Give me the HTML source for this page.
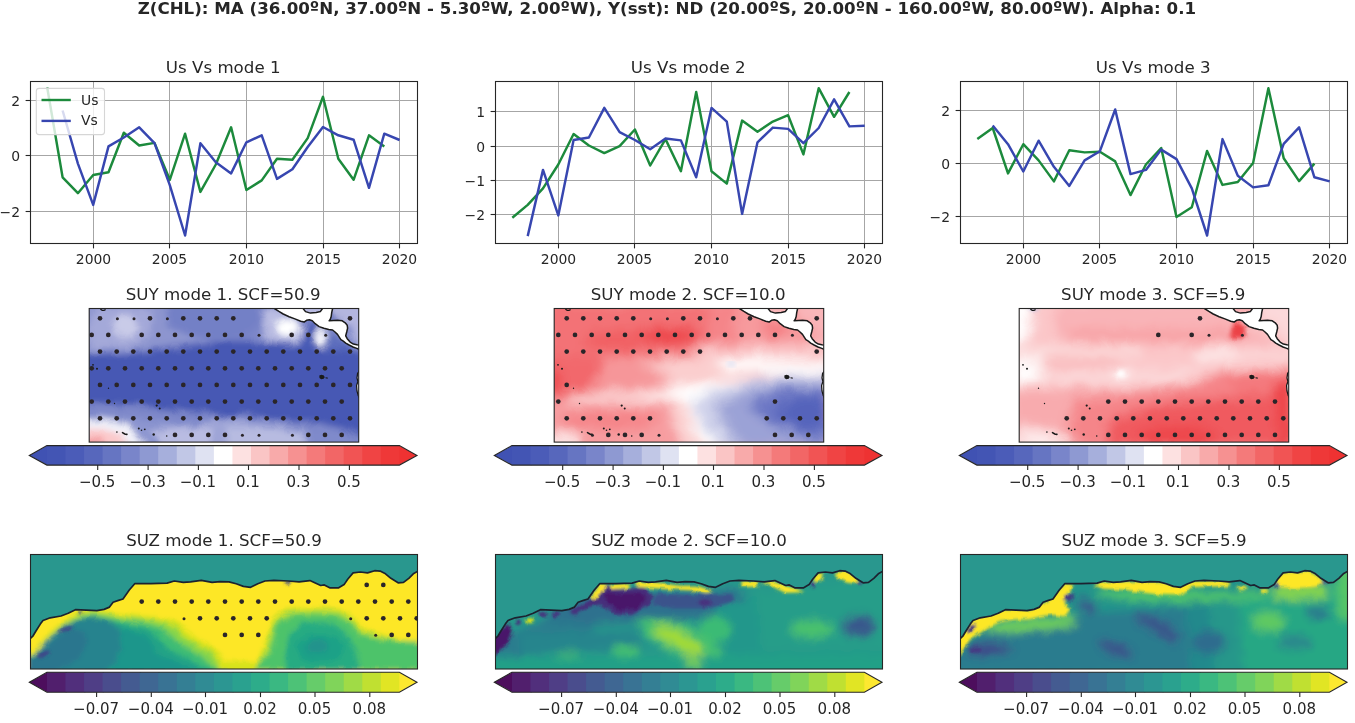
<!DOCTYPE html>
<html lang="en"><head><meta charset="utf-8"><title>MCA figure</title>
<style>html,body{margin:0;padding:0;background:#fff}svg{display:block}text{font-family:"DejaVu Sans","Liberation Sans",sans-serif}</style>
</head><body>
<svg width="1355" height="723" viewBox="0 0 1355 723">
<rect width="1355" height="723" fill="#fff"/>
<g>
<rect x="30.5" y="81.5" width="387.0" height="162.0" fill="#fff"/>
<line x1="93.5" y1="81.5" x2="93.5" y2="243.5" stroke="#a6a6a6" stroke-width="1"/>
<line x1="93.5" y1="243.5" x2="93.5" y2="248.4" stroke="#262626" stroke-width="1.1"/>
<text x="93.5" y="264.0" font-size="13.9" text-anchor="middle" fill="#262626">2000</text>
<line x1="169.5" y1="81.5" x2="169.5" y2="243.5" stroke="#a6a6a6" stroke-width="1"/>
<line x1="169.5" y1="243.5" x2="169.5" y2="248.4" stroke="#262626" stroke-width="1.1"/>
<text x="169.5" y="264.0" font-size="13.9" text-anchor="middle" fill="#262626">2005</text>
<line x1="246.5" y1="81.5" x2="246.5" y2="243.5" stroke="#a6a6a6" stroke-width="1"/>
<line x1="246.5" y1="243.5" x2="246.5" y2="248.4" stroke="#262626" stroke-width="1.1"/>
<text x="246.5" y="264.0" font-size="13.9" text-anchor="middle" fill="#262626">2010</text>
<line x1="323.5" y1="81.5" x2="323.5" y2="243.5" stroke="#a6a6a6" stroke-width="1"/>
<line x1="323.5" y1="243.5" x2="323.5" y2="248.4" stroke="#262626" stroke-width="1.1"/>
<text x="323.5" y="264.0" font-size="13.9" text-anchor="middle" fill="#262626">2015</text>
<line x1="399.5" y1="81.5" x2="399.5" y2="243.5" stroke="#a6a6a6" stroke-width="1"/>
<line x1="399.5" y1="243.5" x2="399.5" y2="248.4" stroke="#262626" stroke-width="1.1"/>
<text x="399.5" y="264.0" font-size="13.9" text-anchor="middle" fill="#262626">2020</text>
<line x1="30.5" y1="100.5" x2="417.5" y2="100.5" stroke="#a6a6a6" stroke-width="1"/>
<line x1="25.6" y1="100.5" x2="30.5" y2="100.5" stroke="#262626" stroke-width="1.1"/>
<text x="20.0" y="105.8" font-size="13.9" text-anchor="end" fill="#262626">2</text>
<line x1="30.5" y1="155.5" x2="417.5" y2="155.5" stroke="#a6a6a6" stroke-width="1"/>
<line x1="25.6" y1="155.5" x2="30.5" y2="155.5" stroke="#262626" stroke-width="1.1"/>
<text x="20.0" y="160.8" font-size="13.9" text-anchor="end" fill="#262626">0</text>
<line x1="30.5" y1="211.5" x2="417.5" y2="211.5" stroke="#a6a6a6" stroke-width="1"/>
<line x1="25.6" y1="211.5" x2="30.5" y2="211.5" stroke="#262626" stroke-width="1.1"/>
<text x="20.0" y="216.8" font-size="13.9" text-anchor="end" fill="#262626">−2</text>
<polyline points="47.2,87.5 62.6,177.3 77.9,193.2 93.2,175.0 108.5,172.2 123.8,132.7 139.2,145.5 154.5,142.9 169.8,179.8 185.1,133.7 200.4,191.9 215.8,164.5 231.1,127.3 246.4,190.0 261.7,180.4 277.0,158.8 292.4,159.8 307.7,138.1 323.0,96.8 338.3,158.8 353.6,179.8 369.0,135.3 384.3,146.4" fill="none" stroke="#1c8a3c" stroke-width="2.45" stroke-linejoin="round"/>
<polyline points="62.6,110.5 77.9,163.6 93.2,204.9 108.5,146.4 123.8,137.5 139.2,127.3 154.5,143.2 169.8,185.2 185.1,235.5 200.4,143.2 215.8,162.3 231.1,173.4 246.4,142.3 261.7,135.3 277.0,178.9 292.4,169.3 307.7,147.0 323.0,127.0 338.3,135.3 353.6,139.7 369.0,187.8 384.3,133.7 399.6,140.0" fill="none" stroke="#3746b0" stroke-width="2.45" stroke-linejoin="round"/>
<rect x="30.5" y="81.5" width="387.0" height="162.0" fill="none" stroke="#262626" stroke-width="1.1"/>
<text x="223.2" y="73.2" font-size="16.67" text-anchor="middle" fill="#262626">Us Vs mode 1</text>
<rect x="36.3" y="88.4" width="68.2" height="46.2" rx="2.8" fill="#fff" fill-opacity="0.8" stroke="#d6d6d6" stroke-width="1.1"/>
<line x1="41.5" y1="100" x2="70.8" y2="100" stroke="#1c8a3c" stroke-width="2.4"/>
<line x1="41.5" y1="120.9" x2="70.8" y2="120.9" stroke="#3746b0" stroke-width="2.4"/>
<text x="81.0" y="104.6" font-size="13.9" fill="#262626">Us</text>
<text x="81.0" y="125.1" font-size="13.9" fill="#262626">Vs</text>
</g>
<g>
<rect x="495.5" y="81.5" width="387.0" height="162.0" fill="#fff"/>
<line x1="558.5" y1="81.5" x2="558.5" y2="243.5" stroke="#a6a6a6" stroke-width="1"/>
<line x1="558.5" y1="243.5" x2="558.5" y2="248.4" stroke="#262626" stroke-width="1.1"/>
<text x="558.5" y="264.0" font-size="13.9" text-anchor="middle" fill="#262626">2000</text>
<line x1="634.5" y1="81.5" x2="634.5" y2="243.5" stroke="#a6a6a6" stroke-width="1"/>
<line x1="634.5" y1="243.5" x2="634.5" y2="248.4" stroke="#262626" stroke-width="1.1"/>
<text x="634.5" y="264.0" font-size="13.9" text-anchor="middle" fill="#262626">2005</text>
<line x1="711.5" y1="81.5" x2="711.5" y2="243.5" stroke="#a6a6a6" stroke-width="1"/>
<line x1="711.5" y1="243.5" x2="711.5" y2="248.4" stroke="#262626" stroke-width="1.1"/>
<text x="711.5" y="264.0" font-size="13.9" text-anchor="middle" fill="#262626">2010</text>
<line x1="788.5" y1="81.5" x2="788.5" y2="243.5" stroke="#a6a6a6" stroke-width="1"/>
<line x1="788.5" y1="243.5" x2="788.5" y2="248.4" stroke="#262626" stroke-width="1.1"/>
<text x="788.5" y="264.0" font-size="13.9" text-anchor="middle" fill="#262626">2015</text>
<line x1="864.5" y1="81.5" x2="864.5" y2="243.5" stroke="#a6a6a6" stroke-width="1"/>
<line x1="864.5" y1="243.5" x2="864.5" y2="248.4" stroke="#262626" stroke-width="1.1"/>
<text x="864.5" y="264.0" font-size="13.9" text-anchor="middle" fill="#262626">2020</text>
<line x1="495.5" y1="111.5" x2="882.5" y2="111.5" stroke="#a6a6a6" stroke-width="1"/>
<line x1="490.6" y1="111.5" x2="495.5" y2="111.5" stroke="#262626" stroke-width="1.1"/>
<text x="485.0" y="116.8" font-size="13.9" text-anchor="end" fill="#262626">1</text>
<line x1="495.5" y1="146.5" x2="882.5" y2="146.5" stroke="#a6a6a6" stroke-width="1"/>
<line x1="490.6" y1="146.5" x2="495.5" y2="146.5" stroke="#262626" stroke-width="1.1"/>
<text x="485.0" y="151.8" font-size="13.9" text-anchor="end" fill="#262626">0</text>
<line x1="495.5" y1="180.5" x2="882.5" y2="180.5" stroke="#a6a6a6" stroke-width="1"/>
<line x1="490.6" y1="180.5" x2="495.5" y2="180.5" stroke="#262626" stroke-width="1.1"/>
<text x="485.0" y="185.8" font-size="13.9" text-anchor="end" fill="#262626">−1</text>
<line x1="495.5" y1="214.5" x2="882.5" y2="214.5" stroke="#a6a6a6" stroke-width="1"/>
<line x1="490.6" y1="214.5" x2="495.5" y2="214.5" stroke="#262626" stroke-width="1.1"/>
<text x="485.0" y="219.8" font-size="13.9" text-anchor="end" fill="#262626">−2</text>
<polyline points="512.3,217.7 527.7,204.9 543.0,188.4 558.3,164.5 573.6,134.0 588.9,145.5 604.3,153.1 619.6,146.1 634.9,129.5 650.2,165.5 665.5,139.1 680.9,171.2 696.2,92.0 711.5,171.2 726.8,183.6 742.1,120.6 757.5,131.8 772.8,121.6 788.1,115.2 803.4,154.4 818.7,88.2 834.1,116.8 849.4,92.0" fill="none" stroke="#1c8a3c" stroke-width="2.45" stroke-linejoin="round"/>
<polyline points="527.7,236.1 543.0,169.9 558.3,215.4 573.6,140.0 588.9,137.5 604.3,107.9 619.6,132.1 634.9,140.0 650.2,149.3 665.5,138.5 680.9,140.4 696.2,177.3 711.5,107.9 726.8,121.6 742.1,213.9 757.5,142.3 772.8,127.6 788.1,128.9 803.4,143.2 818.7,128.0 834.1,99.3 849.4,126.4 864.7,125.7" fill="none" stroke="#3746b0" stroke-width="2.45" stroke-linejoin="round"/>
<rect x="495.5" y="81.5" width="387.0" height="162.0" fill="none" stroke="#262626" stroke-width="1.1"/>
<text x="688.2" y="73.2" font-size="16.67" text-anchor="middle" fill="#262626">Us Vs mode 2</text>
</g>
<g>
<rect x="960.5" y="81.5" width="387.0" height="162.0" fill="#fff"/>
<line x1="1023.5" y1="81.5" x2="1023.5" y2="243.5" stroke="#a6a6a6" stroke-width="1"/>
<line x1="1023.5" y1="243.5" x2="1023.5" y2="248.4" stroke="#262626" stroke-width="1.1"/>
<text x="1023.5" y="264.0" font-size="13.9" text-anchor="middle" fill="#262626">2000</text>
<line x1="1099.5" y1="81.5" x2="1099.5" y2="243.5" stroke="#a6a6a6" stroke-width="1"/>
<line x1="1099.5" y1="243.5" x2="1099.5" y2="248.4" stroke="#262626" stroke-width="1.1"/>
<text x="1099.5" y="264.0" font-size="13.9" text-anchor="middle" fill="#262626">2005</text>
<line x1="1176.5" y1="81.5" x2="1176.5" y2="243.5" stroke="#a6a6a6" stroke-width="1"/>
<line x1="1176.5" y1="243.5" x2="1176.5" y2="248.4" stroke="#262626" stroke-width="1.1"/>
<text x="1176.5" y="264.0" font-size="13.9" text-anchor="middle" fill="#262626">2010</text>
<line x1="1253.5" y1="81.5" x2="1253.5" y2="243.5" stroke="#a6a6a6" stroke-width="1"/>
<line x1="1253.5" y1="243.5" x2="1253.5" y2="248.4" stroke="#262626" stroke-width="1.1"/>
<text x="1253.5" y="264.0" font-size="13.9" text-anchor="middle" fill="#262626">2015</text>
<line x1="1329.5" y1="81.5" x2="1329.5" y2="243.5" stroke="#a6a6a6" stroke-width="1"/>
<line x1="1329.5" y1="243.5" x2="1329.5" y2="248.4" stroke="#262626" stroke-width="1.1"/>
<text x="1329.5" y="264.0" font-size="13.9" text-anchor="middle" fill="#262626">2020</text>
<line x1="960.5" y1="110.5" x2="1347.5" y2="110.5" stroke="#a6a6a6" stroke-width="1"/>
<line x1="955.6" y1="110.5" x2="960.5" y2="110.5" stroke="#262626" stroke-width="1.1"/>
<text x="950.0" y="115.8" font-size="13.9" text-anchor="end" fill="#262626">2</text>
<line x1="960.5" y1="163.5" x2="1347.5" y2="163.5" stroke="#a6a6a6" stroke-width="1"/>
<line x1="955.6" y1="163.5" x2="960.5" y2="163.5" stroke="#262626" stroke-width="1.1"/>
<text x="950.0" y="168.8" font-size="13.9" text-anchor="end" fill="#262626">0</text>
<line x1="960.5" y1="216.5" x2="1347.5" y2="216.5" stroke="#a6a6a6" stroke-width="1"/>
<line x1="955.6" y1="216.5" x2="960.5" y2="216.5" stroke="#262626" stroke-width="1.1"/>
<text x="950.0" y="221.8" font-size="13.9" text-anchor="end" fill="#262626">−2</text>
<polyline points="977.3,139.1 992.7,128.0 1008.0,173.4 1023.3,144.2 1038.6,160.4 1053.9,181.4 1069.3,150.2 1084.6,152.4 1099.9,151.8 1115.2,161.4 1130.5,195.1 1145.9,164.5 1161.2,148.0 1176.5,217.0 1191.8,207.2 1207.1,150.9 1222.5,184.9 1237.8,182.0 1253.1,162.9 1268.4,88.2 1283.7,158.2 1299.1,181.1 1314.4,163.6" fill="none" stroke="#1c8a3c" stroke-width="2.45" stroke-linejoin="round"/>
<polyline points="992.7,125.4 1008.0,144.2 1023.3,171.5 1038.6,140.7 1053.9,166.8 1069.3,185.9 1084.6,160.4 1099.9,151.2 1115.2,109.5 1130.5,174.1 1145.9,169.9 1161.2,149.6 1176.5,159.1 1191.8,188.4 1207.1,235.5 1222.5,139.1 1237.8,175.7 1253.1,187.4 1268.4,185.2 1283.7,143.9 1299.1,127.3 1314.4,177.3 1329.7,181.4" fill="none" stroke="#3746b0" stroke-width="2.45" stroke-linejoin="round"/>
<rect x="960.5" y="81.5" width="387.0" height="162.0" fill="none" stroke="#262626" stroke-width="1.1"/>
<text x="1153.2" y="73.2" font-size="16.67" text-anchor="middle" fill="#262626">Us Vs mode 3</text>
</g>
<g>
<polygon points="29.3,455.4 47.4,445.6 47.4,465.1" fill="#4052b3"/>
<polygon points="417.0,455.4 398.9,445.6 398.9,465.1" fill="#ee3232"/>
<rect x="46.92" y="445.6" width="20.05" height="19.5" fill="#4355b4"/>
<rect x="65.47" y="445.6" width="20.05" height="19.5" fill="#4b5cb8"/>
<rect x="84.02" y="445.6" width="20.05" height="19.5" fill="#5767bc"/>
<rect x="102.57" y="445.6" width="20.05" height="19.5" fill="#6675c2"/>
<rect x="121.12" y="445.6" width="20.05" height="19.5" fill="#7985ca"/>
<rect x="139.67" y="445.6" width="20.05" height="19.5" fill="#8e99d2"/>
<rect x="158.22" y="445.6" width="20.05" height="19.5" fill="#a6afdc"/>
<rect x="176.77" y="445.6" width="20.05" height="19.5" fill="#c1c7e6"/>
<rect x="195.32" y="445.6" width="20.05" height="19.5" fill="#dfe2f2"/>
<rect x="213.87" y="445.6" width="20.05" height="19.5" fill="#ffffff"/>
<rect x="232.43" y="445.6" width="20.05" height="19.5" fill="#fde1e1"/>
<rect x="250.98" y="445.6" width="20.05" height="19.5" fill="#fac5c5"/>
<rect x="269.53" y="445.6" width="20.05" height="19.5" fill="#f8aaaa"/>
<rect x="288.08" y="445.6" width="20.05" height="19.5" fill="#f69191"/>
<rect x="306.63" y="445.6" width="20.05" height="19.5" fill="#f47a7a"/>
<rect x="325.18" y="445.6" width="20.05" height="19.5" fill="#f26666"/>
<rect x="343.73" y="445.6" width="20.05" height="19.5" fill="#f15454"/>
<rect x="362.28" y="445.6" width="20.05" height="19.5" fill="#f04444"/>
<rect x="380.83" y="445.6" width="18.55" height="19.5" fill="#ef3838"/>
<polygon points="29.3,455.4 46.9,445.6 399.4,445.6 417.0,455.4 399.4,465.1 46.9,465.1" fill="none" stroke="#262626" stroke-width="1.1" stroke-linejoin="miter"/>
<line x1="97.7" y1="465.1" x2="97.7" y2="470.0" stroke="#262626" stroke-width="1.1"/>
<text x="97.2" y="486.6" font-size="15" text-anchor="middle" fill="#262626">−0.5</text>
<line x1="148.1" y1="465.1" x2="148.1" y2="470.0" stroke="#262626" stroke-width="1.1"/>
<text x="147.6" y="486.6" font-size="15" text-anchor="middle" fill="#262626">−0.3</text>
<line x1="198.4" y1="465.1" x2="198.4" y2="470.0" stroke="#262626" stroke-width="1.1"/>
<text x="197.9" y="486.6" font-size="15" text-anchor="middle" fill="#262626">−0.1</text>
<line x1="248.5" y1="465.1" x2="248.5" y2="470.0" stroke="#262626" stroke-width="1.1"/>
<text x="248.0" y="486.6" font-size="15" text-anchor="middle" fill="#262626">0.1</text>
<line x1="299.0" y1="465.1" x2="299.0" y2="470.0" stroke="#262626" stroke-width="1.1"/>
<text x="298.5" y="486.6" font-size="15" text-anchor="middle" fill="#262626">0.3</text>
<line x1="349.4" y1="465.1" x2="349.4" y2="470.0" stroke="#262626" stroke-width="1.1"/>
<text x="348.9" y="486.6" font-size="15" text-anchor="middle" fill="#262626">0.5</text>
</g>
<g>
<polygon points="29.3,682.2 47.4,672.2 47.4,692.2" fill="#4d0e5d"/>
<polygon points="417.0,682.2 398.9,672.2 398.9,692.2" fill="#fde830"/>
<rect x="46.92" y="672.2" width="20.05" height="20.0" fill="#511f6d"/>
<rect x="65.47" y="672.2" width="20.05" height="20.0" fill="#512f7c"/>
<rect x="84.02" y="672.2" width="20.05" height="20.0" fill="#4f3e86"/>
<rect x="102.57" y="672.2" width="20.05" height="20.0" fill="#4a4d8d"/>
<rect x="121.12" y="672.2" width="20.05" height="20.0" fill="#445b91"/>
<rect x="139.67" y="672.2" width="20.05" height="20.0" fill="#3f6793"/>
<rect x="158.22" y="672.2" width="20.05" height="20.0" fill="#397394"/>
<rect x="176.77" y="672.2" width="20.05" height="20.0" fill="#347f94"/>
<rect x="195.32" y="672.2" width="20.05" height="20.0" fill="#308b94"/>
<rect x="213.87" y="672.2" width="20.05" height="20.0" fill="#2c9692"/>
<rect x="232.43" y="672.2" width="20.05" height="20.0" fill="#2aa18f"/>
<rect x="250.98" y="672.2" width="20.05" height="20.0" fill="#2dac8a"/>
<rect x="269.53" y="672.2" width="20.05" height="20.0" fill="#3ab882"/>
<rect x="288.08" y="672.2" width="20.05" height="20.0" fill="#4dc277"/>
<rect x="306.63" y="672.2" width="20.05" height="20.0" fill="#66cc6a"/>
<rect x="325.18" y="672.2" width="20.05" height="20.0" fill="#80d45a"/>
<rect x="343.73" y="672.2" width="20.05" height="20.0" fill="#a0db46"/>
<rect x="362.28" y="672.2" width="20.05" height="20.0" fill="#c0e031"/>
<rect x="380.83" y="672.2" width="18.55" height="20.0" fill="#e1e524"/>
<polygon points="29.3,682.2 46.9,672.2 399.4,672.2 417.0,682.2 399.4,692.2 46.9,692.2" fill="none" stroke="#262626" stroke-width="1.1" stroke-linejoin="miter"/>
<line x1="96.6" y1="692.2" x2="96.6" y2="697.1" stroke="#262626" stroke-width="1.1"/>
<text x="96.1" y="713.7" font-size="15" text-anchor="middle" fill="#262626">−0.07</text>
<line x1="151.3" y1="692.2" x2="151.3" y2="697.1" stroke="#262626" stroke-width="1.1"/>
<text x="150.8" y="713.7" font-size="15" text-anchor="middle" fill="#262626">−0.04</text>
<line x1="205.5" y1="692.2" x2="205.5" y2="697.1" stroke="#262626" stroke-width="1.1"/>
<text x="205.0" y="713.7" font-size="15" text-anchor="middle" fill="#262626">−0.01</text>
<line x1="260.5" y1="692.2" x2="260.5" y2="697.1" stroke="#262626" stroke-width="1.1"/>
<text x="260.0" y="713.7" font-size="15" text-anchor="middle" fill="#262626">0.02</text>
<line x1="315.0" y1="692.2" x2="315.0" y2="697.1" stroke="#262626" stroke-width="1.1"/>
<text x="314.5" y="713.7" font-size="15" text-anchor="middle" fill="#262626">0.05</text>
<line x1="369.8" y1="692.2" x2="369.8" y2="697.1" stroke="#262626" stroke-width="1.1"/>
<text x="369.3" y="713.7" font-size="15" text-anchor="middle" fill="#262626">0.08</text>
</g>
<g>
<polygon points="494.3,455.4 512.4,445.6 512.4,465.1" fill="#4052b3"/>
<polygon points="882.0,455.4 863.9,445.6 863.9,465.1" fill="#ee3232"/>
<rect x="511.92" y="445.6" width="20.05" height="19.5" fill="#4355b4"/>
<rect x="530.47" y="445.6" width="20.05" height="19.5" fill="#4b5cb8"/>
<rect x="549.02" y="445.6" width="20.05" height="19.5" fill="#5767bc"/>
<rect x="567.57" y="445.6" width="20.05" height="19.5" fill="#6675c2"/>
<rect x="586.12" y="445.6" width="20.05" height="19.5" fill="#7985ca"/>
<rect x="604.67" y="445.6" width="20.05" height="19.5" fill="#8e99d2"/>
<rect x="623.22" y="445.6" width="20.05" height="19.5" fill="#a6afdc"/>
<rect x="641.77" y="445.6" width="20.05" height="19.5" fill="#c1c7e6"/>
<rect x="660.32" y="445.6" width="20.05" height="19.5" fill="#dfe2f2"/>
<rect x="678.87" y="445.6" width="20.05" height="19.5" fill="#ffffff"/>
<rect x="697.43" y="445.6" width="20.05" height="19.5" fill="#fde1e1"/>
<rect x="715.98" y="445.6" width="20.05" height="19.5" fill="#fac5c5"/>
<rect x="734.53" y="445.6" width="20.05" height="19.5" fill="#f8aaaa"/>
<rect x="753.08" y="445.6" width="20.05" height="19.5" fill="#f69191"/>
<rect x="771.63" y="445.6" width="20.05" height="19.5" fill="#f47a7a"/>
<rect x="790.18" y="445.6" width="20.05" height="19.5" fill="#f26666"/>
<rect x="808.73" y="445.6" width="20.05" height="19.5" fill="#f15454"/>
<rect x="827.28" y="445.6" width="20.05" height="19.5" fill="#f04444"/>
<rect x="845.83" y="445.6" width="18.55" height="19.5" fill="#ef3838"/>
<polygon points="494.3,455.4 511.9,445.6 864.4,445.6 882.0,455.4 864.4,465.1 511.9,465.1" fill="none" stroke="#262626" stroke-width="1.1" stroke-linejoin="miter"/>
<line x1="562.7" y1="465.1" x2="562.7" y2="470.0" stroke="#262626" stroke-width="1.1"/>
<text x="562.2" y="486.6" font-size="15" text-anchor="middle" fill="#262626">−0.5</text>
<line x1="613.1" y1="465.1" x2="613.1" y2="470.0" stroke="#262626" stroke-width="1.1"/>
<text x="612.6" y="486.6" font-size="15" text-anchor="middle" fill="#262626">−0.3</text>
<line x1="663.4" y1="465.1" x2="663.4" y2="470.0" stroke="#262626" stroke-width="1.1"/>
<text x="662.9" y="486.6" font-size="15" text-anchor="middle" fill="#262626">−0.1</text>
<line x1="713.5" y1="465.1" x2="713.5" y2="470.0" stroke="#262626" stroke-width="1.1"/>
<text x="713.0" y="486.6" font-size="15" text-anchor="middle" fill="#262626">0.1</text>
<line x1="764.0" y1="465.1" x2="764.0" y2="470.0" stroke="#262626" stroke-width="1.1"/>
<text x="763.5" y="486.6" font-size="15" text-anchor="middle" fill="#262626">0.3</text>
<line x1="814.4" y1="465.1" x2="814.4" y2="470.0" stroke="#262626" stroke-width="1.1"/>
<text x="813.9" y="486.6" font-size="15" text-anchor="middle" fill="#262626">0.5</text>
</g>
<g>
<polygon points="494.3,682.2 512.4,672.2 512.4,692.2" fill="#4d0e5d"/>
<polygon points="882.0,682.2 863.9,672.2 863.9,692.2" fill="#fde830"/>
<rect x="511.92" y="672.2" width="20.05" height="20.0" fill="#511f6d"/>
<rect x="530.47" y="672.2" width="20.05" height="20.0" fill="#512f7c"/>
<rect x="549.02" y="672.2" width="20.05" height="20.0" fill="#4f3e86"/>
<rect x="567.57" y="672.2" width="20.05" height="20.0" fill="#4a4d8d"/>
<rect x="586.12" y="672.2" width="20.05" height="20.0" fill="#445b91"/>
<rect x="604.67" y="672.2" width="20.05" height="20.0" fill="#3f6793"/>
<rect x="623.22" y="672.2" width="20.05" height="20.0" fill="#397394"/>
<rect x="641.77" y="672.2" width="20.05" height="20.0" fill="#347f94"/>
<rect x="660.32" y="672.2" width="20.05" height="20.0" fill="#308b94"/>
<rect x="678.87" y="672.2" width="20.05" height="20.0" fill="#2c9692"/>
<rect x="697.43" y="672.2" width="20.05" height="20.0" fill="#2aa18f"/>
<rect x="715.98" y="672.2" width="20.05" height="20.0" fill="#2dac8a"/>
<rect x="734.53" y="672.2" width="20.05" height="20.0" fill="#3ab882"/>
<rect x="753.08" y="672.2" width="20.05" height="20.0" fill="#4dc277"/>
<rect x="771.63" y="672.2" width="20.05" height="20.0" fill="#66cc6a"/>
<rect x="790.18" y="672.2" width="20.05" height="20.0" fill="#80d45a"/>
<rect x="808.73" y="672.2" width="20.05" height="20.0" fill="#a0db46"/>
<rect x="827.28" y="672.2" width="20.05" height="20.0" fill="#c0e031"/>
<rect x="845.83" y="672.2" width="18.55" height="20.0" fill="#e1e524"/>
<polygon points="494.3,682.2 511.9,672.2 864.4,672.2 882.0,682.2 864.4,692.2 511.9,692.2" fill="none" stroke="#262626" stroke-width="1.1" stroke-linejoin="miter"/>
<line x1="561.6" y1="692.2" x2="561.6" y2="697.1" stroke="#262626" stroke-width="1.1"/>
<text x="561.1" y="713.7" font-size="15" text-anchor="middle" fill="#262626">−0.07</text>
<line x1="616.3" y1="692.2" x2="616.3" y2="697.1" stroke="#262626" stroke-width="1.1"/>
<text x="615.8" y="713.7" font-size="15" text-anchor="middle" fill="#262626">−0.04</text>
<line x1="670.5" y1="692.2" x2="670.5" y2="697.1" stroke="#262626" stroke-width="1.1"/>
<text x="670.0" y="713.7" font-size="15" text-anchor="middle" fill="#262626">−0.01</text>
<line x1="725.5" y1="692.2" x2="725.5" y2="697.1" stroke="#262626" stroke-width="1.1"/>
<text x="725.0" y="713.7" font-size="15" text-anchor="middle" fill="#262626">0.02</text>
<line x1="780.0" y1="692.2" x2="780.0" y2="697.1" stroke="#262626" stroke-width="1.1"/>
<text x="779.5" y="713.7" font-size="15" text-anchor="middle" fill="#262626">0.05</text>
<line x1="834.8" y1="692.2" x2="834.8" y2="697.1" stroke="#262626" stroke-width="1.1"/>
<text x="834.3" y="713.7" font-size="15" text-anchor="middle" fill="#262626">0.08</text>
</g>
<g>
<polygon points="959.3,455.4 977.4,445.6 977.4,465.1" fill="#4052b3"/>
<polygon points="1347.0,455.4 1328.9,445.6 1328.9,465.1" fill="#ee3232"/>
<rect x="976.92" y="445.6" width="20.05" height="19.5" fill="#4355b4"/>
<rect x="995.47" y="445.6" width="20.05" height="19.5" fill="#4b5cb8"/>
<rect x="1014.02" y="445.6" width="20.05" height="19.5" fill="#5767bc"/>
<rect x="1032.57" y="445.6" width="20.05" height="19.5" fill="#6675c2"/>
<rect x="1051.12" y="445.6" width="20.05" height="19.5" fill="#7985ca"/>
<rect x="1069.67" y="445.6" width="20.05" height="19.5" fill="#8e99d2"/>
<rect x="1088.22" y="445.6" width="20.05" height="19.5" fill="#a6afdc"/>
<rect x="1106.77" y="445.6" width="20.05" height="19.5" fill="#c1c7e6"/>
<rect x="1125.32" y="445.6" width="20.05" height="19.5" fill="#dfe2f2"/>
<rect x="1143.87" y="445.6" width="20.05" height="19.5" fill="#ffffff"/>
<rect x="1162.43" y="445.6" width="20.05" height="19.5" fill="#fde1e1"/>
<rect x="1180.98" y="445.6" width="20.05" height="19.5" fill="#fac5c5"/>
<rect x="1199.53" y="445.6" width="20.05" height="19.5" fill="#f8aaaa"/>
<rect x="1218.08" y="445.6" width="20.05" height="19.5" fill="#f69191"/>
<rect x="1236.63" y="445.6" width="20.05" height="19.5" fill="#f47a7a"/>
<rect x="1255.18" y="445.6" width="20.05" height="19.5" fill="#f26666"/>
<rect x="1273.73" y="445.6" width="20.05" height="19.5" fill="#f15454"/>
<rect x="1292.28" y="445.6" width="20.05" height="19.5" fill="#f04444"/>
<rect x="1310.83" y="445.6" width="18.55" height="19.5" fill="#ef3838"/>
<polygon points="959.3,455.4 976.9,445.6 1329.4,445.6 1347.0,455.4 1329.4,465.1 976.9,465.1" fill="none" stroke="#262626" stroke-width="1.1" stroke-linejoin="miter"/>
<line x1="1027.7" y1="465.1" x2="1027.7" y2="470.0" stroke="#262626" stroke-width="1.1"/>
<text x="1027.2" y="486.6" font-size="15" text-anchor="middle" fill="#262626">−0.5</text>
<line x1="1078.1" y1="465.1" x2="1078.1" y2="470.0" stroke="#262626" stroke-width="1.1"/>
<text x="1077.6" y="486.6" font-size="15" text-anchor="middle" fill="#262626">−0.3</text>
<line x1="1128.4" y1="465.1" x2="1128.4" y2="470.0" stroke="#262626" stroke-width="1.1"/>
<text x="1127.9" y="486.6" font-size="15" text-anchor="middle" fill="#262626">−0.1</text>
<line x1="1178.5" y1="465.1" x2="1178.5" y2="470.0" stroke="#262626" stroke-width="1.1"/>
<text x="1178.0" y="486.6" font-size="15" text-anchor="middle" fill="#262626">0.1</text>
<line x1="1229.0" y1="465.1" x2="1229.0" y2="470.0" stroke="#262626" stroke-width="1.1"/>
<text x="1228.5" y="486.6" font-size="15" text-anchor="middle" fill="#262626">0.3</text>
<line x1="1279.4" y1="465.1" x2="1279.4" y2="470.0" stroke="#262626" stroke-width="1.1"/>
<text x="1278.9" y="486.6" font-size="15" text-anchor="middle" fill="#262626">0.5</text>
</g>
<g>
<polygon points="959.3,682.2 977.4,672.2 977.4,692.2" fill="#4d0e5d"/>
<polygon points="1347.0,682.2 1328.9,672.2 1328.9,692.2" fill="#fde830"/>
<rect x="976.92" y="672.2" width="20.05" height="20.0" fill="#511f6d"/>
<rect x="995.47" y="672.2" width="20.05" height="20.0" fill="#512f7c"/>
<rect x="1014.02" y="672.2" width="20.05" height="20.0" fill="#4f3e86"/>
<rect x="1032.57" y="672.2" width="20.05" height="20.0" fill="#4a4d8d"/>
<rect x="1051.12" y="672.2" width="20.05" height="20.0" fill="#445b91"/>
<rect x="1069.67" y="672.2" width="20.05" height="20.0" fill="#3f6793"/>
<rect x="1088.22" y="672.2" width="20.05" height="20.0" fill="#397394"/>
<rect x="1106.77" y="672.2" width="20.05" height="20.0" fill="#347f94"/>
<rect x="1125.32" y="672.2" width="20.05" height="20.0" fill="#308b94"/>
<rect x="1143.87" y="672.2" width="20.05" height="20.0" fill="#2c9692"/>
<rect x="1162.43" y="672.2" width="20.05" height="20.0" fill="#2aa18f"/>
<rect x="1180.98" y="672.2" width="20.05" height="20.0" fill="#2dac8a"/>
<rect x="1199.53" y="672.2" width="20.05" height="20.0" fill="#3ab882"/>
<rect x="1218.08" y="672.2" width="20.05" height="20.0" fill="#4dc277"/>
<rect x="1236.63" y="672.2" width="20.05" height="20.0" fill="#66cc6a"/>
<rect x="1255.18" y="672.2" width="20.05" height="20.0" fill="#80d45a"/>
<rect x="1273.73" y="672.2" width="20.05" height="20.0" fill="#a0db46"/>
<rect x="1292.28" y="672.2" width="20.05" height="20.0" fill="#c0e031"/>
<rect x="1310.83" y="672.2" width="18.55" height="20.0" fill="#e1e524"/>
<polygon points="959.3,682.2 976.9,672.2 1329.4,672.2 1347.0,682.2 1329.4,692.2 976.9,692.2" fill="none" stroke="#262626" stroke-width="1.1" stroke-linejoin="miter"/>
<line x1="1026.6" y1="692.2" x2="1026.6" y2="697.1" stroke="#262626" stroke-width="1.1"/>
<text x="1026.1" y="713.7" font-size="15" text-anchor="middle" fill="#262626">−0.07</text>
<line x1="1081.3" y1="692.2" x2="1081.3" y2="697.1" stroke="#262626" stroke-width="1.1"/>
<text x="1080.8" y="713.7" font-size="15" text-anchor="middle" fill="#262626">−0.04</text>
<line x1="1135.5" y1="692.2" x2="1135.5" y2="697.1" stroke="#262626" stroke-width="1.1"/>
<text x="1135.0" y="713.7" font-size="15" text-anchor="middle" fill="#262626">−0.01</text>
<line x1="1190.5" y1="692.2" x2="1190.5" y2="697.1" stroke="#262626" stroke-width="1.1"/>
<text x="1190.0" y="713.7" font-size="15" text-anchor="middle" fill="#262626">0.02</text>
<line x1="1245.0" y1="692.2" x2="1245.0" y2="697.1" stroke="#262626" stroke-width="1.1"/>
<text x="1244.5" y="713.7" font-size="15" text-anchor="middle" fill="#262626">0.05</text>
<line x1="1299.8" y1="692.2" x2="1299.8" y2="697.1" stroke="#262626" stroke-width="1.1"/>
<text x="1299.3" y="713.7" font-size="15" text-anchor="middle" fill="#262626">0.08</text>
</g>
<defs>
<filter id="bl3" x="-10%" y="-10%" width="120%" height="120%"><feGaussianBlur stdDeviation="3"/></filter>
<filter id="bl2" x="-10%" y="-10%" width="120%" height="120%"><feGaussianBlur stdDeviation="2"/></filter>
<filter id="bl4" x="-10%" y="-10%" width="120%" height="120%"><feGaussianBlur stdDeviation="4"/></filter>
<filter id="bl6" x="-10%" y="-10%" width="120%" height="120%"><feGaussianBlur stdDeviation="6"/></filter>
<filter id="bl25" x="-10%" y="-10%" width="120%" height="120%"><feGaussianBlur stdDeviation="2.5"/></filter>
<filter id="bl5" x="-10%" y="-10%" width="120%" height="120%"><feGaussianBlur stdDeviation="5"/></filter>
<filter id="bl15" x="-10%" y="-10%" width="120%" height="120%"><feGaussianBlur stdDeviation="1.5"/></filter>
<filter id="tb3" x="-10%" y="-10%" width="120%" height="120%"><feGaussianBlur stdDeviation="3" result="b"/><feTurbulence type="fractalNoise" baseFrequency="0.06" numOctaves="2" seed="7" result="n"/><feDisplacementMap in="b" in2="n" scale="7" xChannelSelector="R" yChannelSelector="G"/></filter>
<filter id="tb6" x="-10%" y="-10%" width="120%" height="120%"><feGaussianBlur stdDeviation="6" result="b"/><feTurbulence type="fractalNoise" baseFrequency="0.05" numOctaves="2" seed="7" result="n"/><feDisplacementMap in="b" in2="n" scale="9" xChannelSelector="R" yChannelSelector="G"/></filter>
<filter id="tb4" x="-10%" y="-10%" width="120%" height="120%"><feGaussianBlur stdDeviation="4" result="b"/><feTurbulence type="fractalNoise" baseFrequency="0.07" numOctaves="2" seed="7" result="n"/><feDisplacementMap in="b" in2="n" scale="7" xChannelSelector="R" yChannelSelector="G"/></filter>
<filter id="tb25" x="-10%" y="-10%" width="120%" height="120%"><feGaussianBlur stdDeviation="2.5" result="b"/><feTurbulence type="fractalNoise" baseFrequency="0.07" numOctaves="2" seed="7" result="n"/><feDisplacementMap in="b" in2="n" scale="6" xChannelSelector="R" yChannelSelector="G"/></filter>
<filter id="tb15" x="-10%" y="-10%" width="120%" height="120%"><feGaussianBlur stdDeviation="1.5" result="b"/><feTurbulence type="fractalNoise" baseFrequency="0.12" numOctaves="2" seed="7" result="n"/><feDisplacementMap in="b" in2="n" scale="4" xChannelSelector="R" yChannelSelector="G"/></filter>
<filter id="tb2" x="-10%" y="-10%" width="120%" height="120%"><feGaussianBlur stdDeviation="2" result="b"/><feTurbulence type="fractalNoise" baseFrequency="0.1" numOctaves="2" seed="7" result="n"/><feDisplacementMap in="b" in2="n" scale="4" xChannelSelector="R" yChannelSelector="G"/></filter>
<filter id="bl1" x="-10%" y="-10%" width="120%" height="120%"><feGaussianBlur stdDeviation="1.2"/></filter>
<clipPath id="cy0"><rect x="89.2" y="308.5" width="269.5" height="133.6"/></clipPath>
<clipPath id="cz0"><rect x="30.5" y="554.5" width="387.0" height="114.5"/></clipPath>
<clipPath id="cy1"><rect x="554.2" y="308.5" width="269.5" height="133.6"/></clipPath>
<clipPath id="cz1"><rect x="495.5" y="554.5" width="387.0" height="114.5"/></clipPath>
<clipPath id="cy2"><rect x="1019.2" y="308.5" width="269.5" height="133.6"/></clipPath>
<clipPath id="cz2"><rect x="960.5" y="554.5" width="387.0" height="114.5"/></clipPath>
</defs>
<g clip-path="url(#cy0)">
<rect x="89.2" y="308.5" width="269.5" height="133.6" fill="#5a68b8"/>
<g filter="url(#tb3)"><rect x="60" y="290" width="330" height="175" fill="#7d87c9"/><polygon points="79.0,299.0 240.4,299.0 240.4,332.9 184.6,342.8 134.8,349.8 79.0,352.8" fill="#8d95cf"/><polygon points="97.0,307.0 152.7,309.0 150.7,332.9 134.8,345.8 108.9,347.8 93.0,349.8 89.0,326.9" fill="#a4a9d9"/><ellipse cx="124.8" cy="326.9" rx="12.9" ry="11.0" fill="#c9cbe8"/><polygon points="164.7,299.0 244.4,299.0 244.4,336.9 196.6,337.9 168.7,326.9" fill="#7380c6"/><polygon points="77.0,355.2 124.8,353.8 174.6,347.8 236.4,340.8 236.4,417.5 184.6,411.6 134.8,405.6 77.0,402.6" fill="#4658b4"/><polygon points="211.0,340.8 254.8,340.8 280.7,343.8 302.6,345.8 334.5,347.8 366.4,350.8 366.4,440.5 346.5,430.5 318.6,422.5 294.7,422.5 254.8,416.5 211.0,410.6" fill="#4658b4"/><polygon points="211.0,299.0 262.8,299.0 258.8,322.9 244.9,336.9 211.0,337.9" fill="#7380c6"/><polygon points="260.8,307.0 280.7,309.0 302.6,321.9 303.6,332.9 298.7,341.8 280.7,342.8 268.8,340.8 262.8,332.9 264.8,318.9" fill="#b9bce2"/><ellipse cx="287.7" cy="327.9" rx="11.6" ry="8.4" fill="#ffffff"/><polygon points="308.2,319.9 317.0,326.9 317.6,347.8 298.7,347.8 302.6,332.9" fill="#4a5bb6"/><ellipse cx="320.6" cy="336.9" rx="6.4" ry="9.6" fill="#f4f4fb"/><polygon points="326.6,330.9 342.5,340.8 358.4,350.8 334.5,349.8 326.6,345.8" fill="#5f6fbe"/><polygon points="326.6,299.0 366.4,299.0 366.4,348.8 354.4,342.8 350.5,326.9 334.5,320.9" fill="#b4b6df"/><ellipse cx="334.5" cy="317.9" rx="4.4" ry="3.6" fill="#6a74bd"/><polygon points="77.0,414.6 124.8,416.5 168.7,422.5 240.4,424.5 240.4,450.4 77.0,450.4" fill="#8d96d0"/><polygon points="77.0,419.5 102.9,418.9 120.9,422.5 133.8,430.5 144.8,446.4 77.0,446.4" fill="#f1f1f9"/><polygon points="77.0,428.1 100.9,428.1 118.9,433.5 131.8,448.4 77.0,448.4" fill="#fbc9cb"/><ellipse cx="90.0" cy="442.4" rx="14.9" ry="5.6" fill="#f5a3a6"/><polygon points="150.7,430.5 184.6,427.5 236.4,425.5 236.4,450.4 164.7,450.4" fill="#b9bce2"/><polygon points="211.0,418.5 254.8,422.5 290.7,427.5 306.6,430.5 308.6,450.4 211.0,450.4" fill="#9fa5d7"/><polygon points="227.0,427.5 274.8,428.5 302.6,434.5 302.6,450.4 227.0,450.4" fill="#b7bbe1"/><polygon points="308.6,430.5 334.5,430.5 366.4,440.5 366.4,450.4 308.6,450.4" fill="#7f8acb"/></g>
<polygon points="274.5,308.5 278.9,311.4 283.2,314.0 289.1,316.7 294.9,318.9 300.7,321.3 304.1,322.1 306.5,320.3 309.4,319.7 312.3,320.8 315.2,323.7 319.1,326.6 323.9,328.3 328.8,329.5 332.6,330.0 335.0,332.0 337.5,334.4 339.4,337.3 340.9,339.7 343.3,341.2 345.7,343.1 349.1,345.0 353.0,347.0 356.8,348.4 359.0,349.4 359.0,345.0 356.8,344.7 353.4,344.1 350.1,342.1 347.2,338.7 345.7,335.8 346.7,332.0 347.6,328.1 347.2,325.2 345.2,322.8 342.3,320.8 337.5,320.3 333.6,320.5 329.2,320.8 330.2,319.4 331.2,316.5 331.7,312.6 332.6,308.5" fill="#ffffff"/>
<polygon points="303.1,308.5 305.5,311.6 310.4,313.1 316.2,312.4 320.5,311.4 322.5,308.5" fill="#b9bbe1"/><polyline points="274.5,308.5 278.9,311.4 283.2,314.0 289.1,316.7 294.9,318.9 300.7,321.3 304.1,322.1 306.5,320.3 309.4,319.7 312.3,320.8 315.2,323.7 319.1,326.6 323.9,328.3 328.8,329.5 332.6,330.0 335.0,332.0 337.5,334.4 339.4,337.3 340.9,339.7 343.3,341.2 345.7,343.1 349.1,345.0 353.0,347.0 356.8,348.4 359.0,349.4" fill="none" stroke="#1a1a1a" stroke-width="1.5" stroke-linejoin="round" stroke-linecap="round"/><polyline points="332.6,308.5 331.7,312.6 331.2,316.5 330.2,319.4 329.2,320.8 333.6,320.5 337.5,320.3 342.3,320.8 345.2,322.8 347.2,325.2 347.6,328.1 346.7,332.0 345.7,335.8 347.2,338.7 350.1,342.1 353.4,344.1 356.8,344.7 359.0,345.0" fill="none" stroke="#1a1a1a" stroke-width="1.5" stroke-linejoin="round" stroke-linecap="round"/><polyline points="303.1,308.5 305.5,311.6 310.4,313.1 316.2,312.4 320.5,311.4 322.5,308.5" fill="none" stroke="#1a1a1a" stroke-width="1.5" stroke-linejoin="round" stroke-linecap="round"/><path d="M319.3 375.6 l2.2 -0.8 l2.4 0.6 l0.8 1.8 l-1.0 1.6 l-2.6 0.4 l-1.6 -1.2 z M325.4 377.2 l2.2 0.2 l0.6 1.0 l-2.4 0.2 z" fill="#1a1a1a"/><path d="M359.5 370.5 L357.6 373.5 L357.0 378 L357.9 381.5 L356.6 385.5 L357.0 391 L358.2 395.5 L359.5 398 Z" fill="#fff" stroke="#1a1a1a" stroke-width="1.3"/><g fill="#1a1a1a"><circle cx="156.7" cy="405.6" r="1.1"/><circle cx="159.7" cy="408.4" r="1.0"/><circle cx="138.8" cy="428.5" r="1.0"/><circle cx="141.5" cy="430.2" r="0.8"/><circle cx="144.8" cy="429.3" r="0.9"/><circle cx="116.9" cy="432.1" r="0.8"/><circle cx="153.7" cy="434.5" r="1.2"/><circle cx="166.7" cy="436.0" r="0.8"/><circle cx="93.0" cy="364.8" r="0.9"/><circle cx="97.0" cy="368.7" r="1.0"/><circle cx="108.5" cy="388.2" r="0.7"/><circle cx="114.5" cy="403.5" r="0.7"/></g><path d="M122.5 432.6 l2.2 1.4 l2.2 0.4" fill="none" stroke="#1a1a1a" stroke-width="1.6" stroke-linecap="round"/><path d="M100.5 308.8 q1.2 2.6 4.6 1.0" fill="none" stroke="#1a1a1a" stroke-width="1.4" stroke-linecap="round"/>
<g fill="#2a2529"><circle cx="100.0" cy="318.3" r="2.35"/><circle cx="150.0" cy="318.3" r="2.35"/><circle cx="183.3" cy="318.3" r="2.35"/><circle cx="200.0" cy="318.3" r="2.35"/><circle cx="216.7" cy="318.3" r="2.35"/><circle cx="233.3" cy="318.3" r="2.35"/><circle cx="350.0" cy="318.3" r="2.35"/><circle cx="117.4" cy="318.7" r="1.5"/><circle cx="134.0" cy="318.7" r="1.5"/><circle cx="167.4" cy="318.7" r="1.5"/><circle cx="91.7" cy="334.9" r="2.35"/><circle cx="108.3" cy="334.9" r="2.35"/><circle cx="141.7" cy="334.9" r="2.35"/><circle cx="158.3" cy="334.9" r="2.35"/><circle cx="175.0" cy="334.9" r="2.35"/><circle cx="191.7" cy="334.9" r="2.35"/><circle cx="208.3" cy="334.9" r="2.35"/><circle cx="225.0" cy="334.9" r="2.35"/><circle cx="241.7" cy="334.9" r="2.35"/><circle cx="291.7" cy="334.9" r="2.35"/><circle cx="308.3" cy="334.9" r="2.35"/><circle cx="259.0" cy="335.3" r="1.5"/><circle cx="325.7" cy="335.3" r="1.5"/><circle cx="242.4" cy="435.3" r="1.5"/><circle cx="259.0" cy="435.3" r="1.5"/><circle cx="292.4" cy="435.3" r="1.5"/><circle cx="100.0" cy="351.6" r="2.35"/><circle cx="116.7" cy="351.6" r="2.35"/><circle cx="133.3" cy="351.6" r="2.35"/><circle cx="150.0" cy="351.6" r="2.35"/><circle cx="166.7" cy="351.6" r="2.35"/><circle cx="183.3" cy="351.6" r="2.35"/><circle cx="200.0" cy="351.6" r="2.35"/><circle cx="216.7" cy="351.6" r="2.35"/><circle cx="233.3" cy="351.6" r="2.35"/><circle cx="250.0" cy="351.6" r="2.35"/><circle cx="266.7" cy="351.6" r="2.35"/><circle cx="283.3" cy="351.6" r="2.35"/><circle cx="300.0" cy="351.6" r="2.35"/><circle cx="316.7" cy="351.6" r="2.35"/><circle cx="333.3" cy="351.6" r="2.35"/><circle cx="350.0" cy="351.6" r="2.35"/><circle cx="91.7" cy="368.3" r="2.35"/><circle cx="108.3" cy="368.3" r="2.35"/><circle cx="125.0" cy="368.3" r="2.35"/><circle cx="141.7" cy="368.3" r="2.35"/><circle cx="158.3" cy="368.3" r="2.35"/><circle cx="175.0" cy="368.3" r="2.35"/><circle cx="191.7" cy="368.3" r="2.35"/><circle cx="208.3" cy="368.3" r="2.35"/><circle cx="225.0" cy="368.3" r="2.35"/><circle cx="241.7" cy="368.3" r="2.35"/><circle cx="258.3" cy="368.3" r="2.35"/><circle cx="275.0" cy="368.3" r="2.35"/><circle cx="291.7" cy="368.3" r="2.35"/><circle cx="308.3" cy="368.3" r="2.35"/><circle cx="325.0" cy="368.3" r="2.35"/><circle cx="341.7" cy="368.3" r="2.35"/><circle cx="100.0" cy="384.9" r="2.35"/><circle cx="116.7" cy="384.9" r="2.35"/><circle cx="133.3" cy="384.9" r="2.35"/><circle cx="150.0" cy="384.9" r="2.35"/><circle cx="166.7" cy="384.9" r="2.35"/><circle cx="183.3" cy="384.9" r="2.35"/><circle cx="200.0" cy="384.9" r="2.35"/><circle cx="216.7" cy="384.9" r="2.35"/><circle cx="233.3" cy="384.9" r="2.35"/><circle cx="250.0" cy="384.9" r="2.35"/><circle cx="266.7" cy="384.9" r="2.35"/><circle cx="283.3" cy="384.9" r="2.35"/><circle cx="300.0" cy="384.9" r="2.35"/><circle cx="316.7" cy="384.9" r="2.35"/><circle cx="333.3" cy="384.9" r="2.35"/><circle cx="350.0" cy="384.9" r="2.35"/><circle cx="91.7" cy="401.6" r="2.35"/><circle cx="108.3" cy="401.6" r="2.35"/><circle cx="125.0" cy="401.6" r="2.35"/><circle cx="141.7" cy="401.6" r="2.35"/><circle cx="158.3" cy="401.6" r="2.35"/><circle cx="175.0" cy="401.6" r="2.35"/><circle cx="191.7" cy="401.6" r="2.35"/><circle cx="208.3" cy="401.6" r="2.35"/><circle cx="225.0" cy="401.6" r="2.35"/><circle cx="241.7" cy="401.6" r="2.35"/><circle cx="258.3" cy="401.6" r="2.35"/><circle cx="275.0" cy="401.6" r="2.35"/><circle cx="291.7" cy="401.6" r="2.35"/><circle cx="308.3" cy="401.6" r="2.35"/><circle cx="325.0" cy="401.6" r="2.35"/><circle cx="341.7" cy="401.6" r="2.35"/><circle cx="100.0" cy="418.3" r="2.35"/><circle cx="116.7" cy="418.3" r="2.35"/><circle cx="133.3" cy="418.3" r="2.35"/><circle cx="150.0" cy="418.3" r="2.35"/><circle cx="166.7" cy="418.3" r="2.35"/><circle cx="183.3" cy="418.3" r="2.35"/><circle cx="200.0" cy="418.3" r="2.35"/><circle cx="216.7" cy="418.3" r="2.35"/><circle cx="233.3" cy="418.3" r="2.35"/><circle cx="250.0" cy="418.3" r="2.35"/><circle cx="266.7" cy="418.3" r="2.35"/><circle cx="283.3" cy="418.3" r="2.35"/><circle cx="300.0" cy="418.3" r="2.35"/><circle cx="316.7" cy="418.3" r="2.35"/><circle cx="333.3" cy="418.3" r="2.35"/><circle cx="350.0" cy="418.3" r="2.35"/><circle cx="175.0" cy="434.9" r="2.35"/><circle cx="191.7" cy="434.9" r="2.35"/><circle cx="208.3" cy="434.9" r="2.35"/><circle cx="225.0" cy="434.9" r="2.35"/><circle cx="308.3" cy="434.9" r="2.35"/><circle cx="325.0" cy="434.9" r="2.35"/><circle cx="341.7" cy="434.9" r="2.35"/></g>
</g>
<rect x="89.2" y="308.5" width="269.5" height="133.6" fill="none" stroke="#262626" stroke-width="1.1"/>
<text x="223.2" y="300.3" font-size="16.67" text-anchor="middle" fill="#262626">SUY mode 1. SCF=50.9</text>
<g clip-path="url(#cz0)">
<rect x="30.5" y="554.5" width="387.0" height="114.5" fill="#29978e"/>
<defs><clipPath id="sea0"><polygon points="20.0,700.0 28.6,640.0 30.4,638.5 33.1,635.8 35.8,631.3 40.3,624.1 43.0,620.5 50.2,617.8 61.0,616.0 68.2,613.3 75.4,609.7 86.2,610.1 96.9,610.6 104.1,609.4 109.5,607.1 113.1,602.2 118.5,600.4 123.0,599.0 129.3,590.0 134.7,583.7 150.9,583.7 167.1,583.1 174.3,581.0 183.3,582.4 190.5,581.9 201.3,580.4 212.1,582.4 220.0,581.7 229.0,581.9 236.2,583.7 243.4,586.4 250.6,587.3 257.8,583.7 265.0,581.0 274.0,580.3 288.3,581.0 299.1,581.9 309.9,580.6 315.3,583.1 320.7,585.5 324.3,584.9 329.7,587.8 338.7,587.8 344.1,584.6 347.7,579.2 353.1,572.9 360.3,572.0 367.5,572.9 374.7,570.7 380.1,571.1 385.5,573.8 390.9,578.3 398.1,582.8 403.5,582.4 408.8,578.3 413.3,573.8 419.6,570.2 425.0,700.0"/></clipPath></defs><g><g clip-path="url(#sea0)"><g filter="url(#tb25)"><rect x="10" y="540" width="430" height="150" fill="#fde725"/><polygon points="26.2,656.2 33.8,652.4 39.6,644.7 47.3,635.1 56.9,626.5 68.4,617.8 78.0,611.5 93.3,609.2 110.6,611.9 122.1,613.8 137.5,615.7 154.8,616.9 169.2,619.8 181.6,626.5 191.2,633.8 200.8,640.7 210.4,646.4 218.1,652.4 224.2,660.2 229.6,674.5 26.2,674.5" fill="#cbe11e"/><polygon points="26.2,656.2 36.7,653.4 42.4,646.0 49.8,636.9 59.1,628.6 70.2,620.3 79.4,614.2 94.1,612.2 110.7,615.0 121.7,616.8 136.4,618.6 152.6,620.0 165.8,623.3 177.0,630.1 185.5,637.1 194.7,643.4 204.0,648.6 211.6,654.1 217.6,661.4 229.6,674.5 26.2,674.5" fill="#86d549"/><polygon points="26.2,656.2 40.0,654.6 45.5,647.6 52.6,638.8 61.6,631.0 72.2,623.2 80.9,617.3 95.0,615.5 110.8,618.4 121.2,620.3 135.1,621.8 150.1,623.9 161.3,628.1 170.6,635.0 177.5,641.9 185.9,647.3 195.0,651.8 202.3,656.5 208.2,663.1 229.6,674.5 26.2,674.5" fill="#3dbc74"/><polygon points="26.2,656.2 43.6,655.8 48.9,649.2 55.8,641.0 64.3,633.7 74.4,626.3 82.6,620.8 96.0,619.2 110.9,622.2 120.6,624.1 133.7,625.4 146.9,628.6 155.7,634.1 162.3,641.5 166.9,648.1 174.3,652.5 183.0,655.9 190.0,659.8 195.7,665.4 229.6,674.5 26.2,674.5" fill="#20a386"/><polygon points="26.2,656.2 49.2,657.8 54.3,651.8 60.7,644.4 68.6,637.8 77.8,631.1 85.3,626.1 97.6,624.9 111.1,628.2 119.8,629.9 131.6,630.9 143.0,634.5 149.6,640.6 154.1,647.9 156.9,654.0 163.6,657.3 171.9,659.7 178.7,662.8 184.1,667.4 229.6,674.5 26.2,674.5" fill="#1f968b"/><polygon points="26.2,661.0 37.7,651.4 45.4,641.8 55.0,633.2 66.5,624.5 78.0,618.8 93.3,616.9 110.6,620.7 120.2,630.3 122.1,647.6 114.5,662.9 102.9,674.5 26.2,674.5" fill="#26838e"/><polygon points="26.2,662.9 39.6,653.3 49.2,643.7 60.7,635.1 72.2,629.3 83.7,631.3 87.6,643.7 79.9,657.2 64.5,666.8 49.2,674.5 26.2,674.5" fill="#2b768e"/><polygon points="252.8,671.2 260.4,654.9 265.3,642.0 268.5,630.6 271.8,620.8 277.0,614.0 286.9,609.5 305.5,607.2 323.4,607.5 340.4,609.5 350.2,615.0 357.2,621.8 364.8,628.3 375.7,632.2 386.7,635.5 403.0,639.4 424.1,641.6 424.1,671.2" fill="#cbe11e"/><polygon points="252.8,671.2 263.8,656.0 268.4,643.7 271.3,632.8 274.2,623.4 279.1,616.9 288.6,612.6 306.5,610.7 323.4,611.1 339.5,612.9 348.7,618.3 355.2,624.8 362.4,631.0 372.9,634.5 383.7,637.3 399.7,640.8 424.1,641.6 424.1,671.2" fill="#86d549"/><polygon points="252.8,671.2 267.5,657.2 271.8,645.6 274.4,635.3 276.9,626.2 281.5,620.0 290.5,616.0 307.5,614.4 323.4,615.0 338.5,616.7 347.1,621.8 353.1,628.1 359.8,633.9 369.9,636.9 380.4,639.4 396.1,642.4 424.1,641.6 424.1,671.2" fill="#4ec36b"/><polygon points="290.9,630.6 303.9,623.3 323.4,621.7 339.6,627.7 349.4,638.7 355.9,651.7 359.9,671.2 286.9,671.2 284.4,651.7" fill="#25ab82"/><ellipse cx="320.1" cy="648.5" rx="24.4" ry="14.6" fill="#1fa187"/><ellipse cx="316.9" cy="646.8" rx="11.4" ry="7.3" fill="#20938c"/><polygon points="217.9,661.4 256.8,661.4 255.2,671.2 219.5,671.2" fill="#d5e21a"/></g><g filter="url(#tb15)"><ellipse cx="65.5" cy="629.3" rx="8.6" ry="2.1" fill="#3e4989" transform="rotate(-15 65.5 629.3)"/><ellipse cx="43.4" cy="654.3" rx="6.7" ry="2.7" fill="#3e4989" transform="rotate(-25 43.4 654.3)"/><ellipse cx="80.9" cy="611.5" rx="2.3" ry="1.5" fill="#3b528b"/><ellipse cx="287.7" cy="582.5" rx="3.0" ry="1.8" fill="#3e4989"/></g></g><polyline points="28.6,640.0 30.4,638.5 33.1,635.8 35.8,631.3 40.3,624.1 43.0,620.5 50.2,617.8 61.0,616.0 68.2,613.3 75.4,609.7 86.2,610.1 96.9,610.6 104.1,609.4 109.5,607.1 113.1,602.2 118.5,600.4 123.0,599.0 129.3,590.0 134.7,583.7 150.9,583.7 167.1,583.1 174.3,581.0 183.3,582.4 190.5,581.9 201.3,580.4 212.1,582.4 220.0,581.7 229.0,581.9 236.2,583.7 243.4,586.4 250.6,587.3 257.8,583.7 265.0,581.0 274.0,580.3 288.3,581.0 299.1,581.9 309.9,580.6 315.3,583.1 320.7,585.5 324.3,584.9 329.7,587.8 338.7,587.8 344.1,584.6 347.7,579.2 353.1,572.9 360.3,572.0 367.5,572.9 374.7,570.7 380.1,571.1 385.5,573.8 390.9,578.3 398.1,582.8 403.5,582.4 408.8,578.3 413.3,573.8 419.6,570.2" fill="none" stroke="#1c2230" stroke-width="1.7" stroke-linejoin="round"/></g>
<g fill="#2a2529"><circle cx="366.7" cy="584.9" r="2.35"/><circle cx="383.3" cy="584.9" r="2.35"/><circle cx="141.7" cy="601.6" r="2.35"/><circle cx="158.3" cy="601.6" r="2.35"/><circle cx="175.0" cy="601.6" r="2.35"/><circle cx="191.7" cy="601.6" r="2.35"/><circle cx="208.3" cy="601.6" r="2.35"/><circle cx="225.0" cy="601.6" r="2.35"/><circle cx="241.7" cy="601.6" r="2.35"/><circle cx="258.3" cy="601.6" r="2.35"/><circle cx="275.0" cy="601.6" r="2.35"/><circle cx="291.7" cy="601.6" r="2.35"/><circle cx="308.3" cy="601.6" r="2.35"/><circle cx="325.0" cy="601.6" r="2.35"/><circle cx="341.7" cy="601.6" r="2.35"/><circle cx="358.3" cy="601.6" r="2.35"/><circle cx="375.0" cy="601.6" r="2.35"/><circle cx="391.7" cy="601.6" r="2.35"/><circle cx="408.3" cy="601.6" r="2.35"/><circle cx="200.0" cy="618.3" r="2.35"/><circle cx="216.7" cy="618.3" r="2.35"/><circle cx="233.3" cy="618.3" r="2.35"/><circle cx="250.0" cy="618.3" r="2.35"/><circle cx="266.7" cy="618.3" r="2.35"/><circle cx="366.7" cy="618.3" r="2.35"/><circle cx="383.3" cy="618.3" r="2.35"/><circle cx="400.0" cy="618.3" r="2.35"/><circle cx="416.7" cy="618.3" r="2.35"/><circle cx="225.0" cy="634.9" r="2.35"/><circle cx="241.7" cy="634.9" r="2.35"/><circle cx="258.3" cy="634.9" r="2.35"/><circle cx="391.7" cy="634.9" r="2.35"/><circle cx="408.3" cy="634.9" r="2.35"/><circle cx="184.0" cy="618.7" r="1.5"/><circle cx="350.7" cy="618.7" r="1.5"/><circle cx="375.7" cy="635.3" r="1.5"/></g>
</g>
<rect x="30.5" y="554.5" width="387.0" height="114.5" fill="none" stroke="#262626" stroke-width="1.1"/>
<text x="224.0" y="546.3" font-size="16.67" text-anchor="middle" fill="#262626">SUZ mode 1. SCF=50.9</text>
<g clip-path="url(#cy1)">
<rect x="554.2" y="308.5" width="269.5" height="133.6" fill="#f6a5a8"/>
<g filter="url(#tb6)" transform="translate(465 0)"><rect x="60" y="290" width="330" height="175" fill="#f8a9ac"/><polygon points="80.0,300.0 255.5,300.0 251.2,353.5 187.0,356.7 139.9,357.8 80.0,355.7" fill="#f37276"/><ellipse cx="202.0" cy="336.0" rx="32.1" ry="9.0" fill="#ee474b"/><ellipse cx="150.6" cy="340.7" rx="32.1" ry="9.6" fill="#f15e62"/><polygon points="242.7,300.0 366.8,300.0 366.8,355.7 294.0,356.7 242.7,353.5" fill="#f58589"/><polygon points="272.6,300.0 366.8,300.0 366.8,355.7 294.0,356.7 268.4,353.5" fill="#f79a9d"/><ellipse cx="310.1" cy="327.8" rx="12.8" ry="8.1" fill="#f47c80"/><polygon points="229.8,346.0 366.8,343.9 366.8,362.1 229.8,362.1" fill="#fac4c6"/><polygon points="80.0,355.7 137.8,357.4 141.0,372.8 129.2,389.9 103.5,397.4 80.0,398.5" fill="#f2686c"/><ellipse cx="87.5" cy="379.2" rx="8.6" ry="15.0" fill="#ee4b4f"/><polygon points="141.0,359.9 199.9,357.8 199.9,384.5 150.6,392.0 122.8,394.2" fill="#f69699"/><polygon points="176.3,361.0 251.2,358.9 294.0,356.7 294.0,370.6 251.2,372.8 199.9,374.9" fill="#fbd0d0"/><polygon points="251.2,359.9 294.0,357.8 366.8,362.1 366.8,373.8 294.0,371.7 257.7,371.7" fill="#ffffff"/><polygon points="199.9,373.8 272.6,371.7 294.0,372.8 272.6,382.4 208.4,384.5" fill="#fbcccc"/><polygon points="324.0,371.7 366.8,371.7 366.8,385.6 328.3,382.4" fill="#fde6e6"/><polygon points="105.7,395.9 169.9,394.2 199.9,386.7 217.0,384.5 242.7,381.3 279.1,379.2 306.9,373.8 319.7,379.2 285.5,384.5 255.5,389.9 234.1,400.6 242.7,419.9 257.7,449.8 234.1,449.8 221.3,419.9 212.7,402.7 169.9,401.9 105.7,402.3" fill="#fde4e4"/><polygon points="199.9,387.8 229.8,385.6 272.6,381.3 281.2,382.4 251.2,391.0 233.0,400.6 242.7,419.9 255.5,449.8 239.5,449.8 227.7,419.9 219.1,402.7 208.4,395.2" fill="#ffffff"/><polygon points="80.0,401.9 169.9,402.3 208.4,404.0 217.0,419.9 229.8,449.8 80.0,449.8" fill="#f79da0"/><ellipse cx="144.2" cy="419.9" rx="49.2" ry="10.7" fill="#f58589"/><polygon points="80.0,432.7 110.0,434.8 116.4,449.8 80.0,449.8" fill="#fdeaea"/><polygon points="204.1,402.7 221.3,402.7 238.4,449.8 217.0,449.8" fill="#fbd3d3"/><polygon points="225.5,403.8 249.1,389.9 283.3,381.3 311.2,373.8 328.3,373.8 366.8,374.9 366.8,449.8 255.5,449.8 236.2,424.1" fill="#cfd1ea"/><polygon points="251.2,403.8 279.1,389.9 311.2,382.4 366.8,382.4 366.8,449.8 279.1,449.8 259.8,428.4" fill="#9ba2d6"/><polygon points="283.3,404.9 309.0,389.5 336.8,388.8 366.8,391.0 366.8,441.3 332.6,437.0 304.7,423.1" fill="#6a76c4"/><ellipse cx="340.1" cy="412.4" rx="25.7" ry="17.1" fill="#5563bb"/><polygon points="326.6,299.0 366.4,299.0 366.4,348.8 354.4,342.8 350.5,326.9 334.5,320.9" fill="#f9b6b9"/></g>
<g filter="url(#tb2)" transform="translate(465 0)"><ellipse cx="266.2" cy="364.2" rx="4.7" ry="2.6" fill="#e4e6f4"/></g>
<polygon points="739.5,308.5 743.9,311.4 748.2,314.0 754.1,316.7 759.9,318.9 765.7,321.3 769.1,322.1 771.5,320.3 774.4,319.7 777.3,320.8 780.2,323.7 784.1,326.6 788.9,328.3 793.8,329.5 797.6,330.0 800.0,332.0 802.5,334.4 804.4,337.3 805.9,339.7 808.3,341.2 810.7,343.1 814.1,345.0 818.0,347.0 821.8,348.4 824.0,349.4 824.0,345.0 821.8,344.7 818.4,344.1 815.1,342.1 812.2,338.7 810.7,335.8 811.7,332.0 812.6,328.1 812.2,325.2 810.2,322.8 807.3,320.8 802.5,320.3 798.6,320.5 794.2,320.8 795.2,319.4 796.2,316.5 796.7,312.6 797.6,308.5" fill="#ffffff"/>
<polygon points="768.1,308.5 770.5,311.6 775.4,313.1 781.2,312.4 785.5,311.4 787.5,308.5" fill="#f9b6b9"/><polyline points="739.5,308.5 743.9,311.4 748.2,314.0 754.1,316.7 759.9,318.9 765.7,321.3 769.1,322.1 771.5,320.3 774.4,319.7 777.3,320.8 780.2,323.7 784.1,326.6 788.9,328.3 793.8,329.5 797.6,330.0 800.0,332.0 802.5,334.4 804.4,337.3 805.9,339.7 808.3,341.2 810.7,343.1 814.1,345.0 818.0,347.0 821.8,348.4 824.0,349.4" fill="none" stroke="#1a1a1a" stroke-width="1.5" stroke-linejoin="round" stroke-linecap="round"/><polyline points="797.6,308.5 796.7,312.6 796.2,316.5 795.2,319.4 794.2,320.8 798.6,320.5 802.5,320.3 807.3,320.8 810.2,322.8 812.2,325.2 812.6,328.1 811.7,332.0 810.7,335.8 812.2,338.7 815.1,342.1 818.4,344.1 821.8,344.7 824.0,345.0" fill="none" stroke="#1a1a1a" stroke-width="1.5" stroke-linejoin="round" stroke-linecap="round"/><polyline points="768.1,308.5 770.5,311.6 775.4,313.1 781.2,312.4 785.5,311.4 787.5,308.5" fill="none" stroke="#1a1a1a" stroke-width="1.5" stroke-linejoin="round" stroke-linecap="round"/><path d="M784.3 375.6 l2.2 -0.8 l2.4 0.6 l0.8 1.8 l-1.0 1.6 l-2.6 0.4 l-1.6 -1.2 z M790.4 377.2 l2.2 0.2 l0.6 1.0 l-2.4 0.2 z" fill="#1a1a1a"/><path d="M824.5 370.5 L822.6 373.5 L822.0 378 L822.9 381.5 L821.6 385.5 L822.0 391 L823.2 395.5 L824.5 398 Z" fill="#fff" stroke="#1a1a1a" stroke-width="1.3"/><g fill="#1a1a1a"><circle cx="621.7" cy="405.6" r="1.1"/><circle cx="624.7" cy="408.4" r="1.0"/><circle cx="603.8" cy="428.5" r="1.0"/><circle cx="606.5" cy="430.2" r="0.8"/><circle cx="609.8" cy="429.3" r="0.9"/><circle cx="581.9" cy="432.1" r="0.8"/><circle cx="618.7" cy="434.5" r="1.2"/><circle cx="631.7" cy="436.0" r="0.8"/><circle cx="558.0" cy="364.8" r="0.9"/><circle cx="562.0" cy="368.7" r="1.0"/><circle cx="573.5" cy="388.2" r="0.7"/><circle cx="579.5" cy="403.5" r="0.7"/></g><path d="M587.5 432.6 l2.2 1.4 l2.2 0.4" fill="none" stroke="#1a1a1a" stroke-width="1.6" stroke-linecap="round"/><path d="M565.5 308.8 q1.2 2.6 4.6 1.0" fill="none" stroke="#1a1a1a" stroke-width="1.4" stroke-linecap="round"/>
<g fill="#2a2529"><circle cx="566.7" cy="318.3" r="2.35"/><circle cx="583.3" cy="318.3" r="2.35"/><circle cx="600.0" cy="318.3" r="2.35"/><circle cx="616.7" cy="318.3" r="2.35"/><circle cx="633.3" cy="318.3" r="2.35"/><circle cx="683.3" cy="318.3" r="2.35"/><circle cx="700.0" cy="318.3" r="2.35"/><circle cx="733.3" cy="318.3" r="2.35"/><circle cx="750.0" cy="318.3" r="2.35"/><circle cx="816.7" cy="318.3" r="2.35"/><circle cx="650.7" cy="318.7" r="1.5"/><circle cx="667.4" cy="318.7" r="1.5"/><circle cx="717.4" cy="318.7" r="1.5"/><circle cx="792.4" cy="335.3" r="1.5"/><circle cx="592.4" cy="435.3" r="1.5"/><circle cx="659.0" cy="435.3" r="1.5"/><circle cx="558.3" cy="334.9" r="2.35"/><circle cx="575.0" cy="334.9" r="2.35"/><circle cx="591.7" cy="334.9" r="2.35"/><circle cx="608.3" cy="334.9" r="2.35"/><circle cx="625.0" cy="334.9" r="2.35"/><circle cx="641.7" cy="334.9" r="2.35"/><circle cx="658.3" cy="334.9" r="2.35"/><circle cx="675.0" cy="334.9" r="2.35"/><circle cx="691.7" cy="334.9" r="2.35"/><circle cx="708.3" cy="334.9" r="2.35"/><circle cx="725.0" cy="334.9" r="2.35"/><circle cx="741.7" cy="334.9" r="2.35"/><circle cx="758.3" cy="334.9" r="2.35"/><circle cx="775.0" cy="334.9" r="2.35"/><circle cx="566.7" cy="351.6" r="2.35"/><circle cx="583.3" cy="351.6" r="2.35"/><circle cx="600.0" cy="351.6" r="2.35"/><circle cx="616.7" cy="351.6" r="2.35"/><circle cx="633.3" cy="351.6" r="2.35"/><circle cx="650.0" cy="351.6" r="2.35"/><circle cx="666.7" cy="351.6" r="2.35"/><circle cx="683.3" cy="351.6" r="2.35"/><circle cx="700.0" cy="351.6" r="2.35"/><circle cx="816.7" cy="351.6" r="2.35"/><circle cx="566.7" cy="384.9" r="2.35"/><circle cx="558.3" cy="401.6" r="2.35"/><circle cx="775.0" cy="401.6" r="2.35"/><circle cx="566.7" cy="418.3" r="2.35"/><circle cx="583.3" cy="418.3" r="2.35"/><circle cx="600.0" cy="418.3" r="2.35"/><circle cx="616.7" cy="418.3" r="2.35"/><circle cx="633.3" cy="418.3" r="2.35"/><circle cx="650.0" cy="418.3" r="2.35"/><circle cx="766.7" cy="418.3" r="2.35"/><circle cx="783.3" cy="418.3" r="2.35"/><circle cx="800.0" cy="418.3" r="2.35"/><circle cx="816.7" cy="418.3" r="2.35"/><circle cx="608.3" cy="434.9" r="2.35"/><circle cx="625.0" cy="434.9" r="2.35"/><circle cx="641.7" cy="434.9" r="2.35"/><circle cx="775.0" cy="434.9" r="2.35"/><circle cx="791.7" cy="434.9" r="2.35"/><circle cx="808.3" cy="434.9" r="2.35"/></g>
</g>
<rect x="554.2" y="308.5" width="269.5" height="133.6" fill="none" stroke="#262626" stroke-width="1.1"/>
<text x="688.2" y="300.3" font-size="16.67" text-anchor="middle" fill="#262626">SUY mode 2. SCF=10.0</text>
<g clip-path="url(#cz1)">
<rect x="495.5" y="554.5" width="387.0" height="114.5" fill="#29978e"/>
<defs><clipPath id="sea1"><polygon points="20.0,700.0 28.6,640.0 30.4,638.5 33.1,635.8 35.8,631.3 40.3,624.1 43.0,620.5 50.2,617.8 61.0,616.0 68.2,613.3 75.4,609.7 86.2,610.1 96.9,610.6 104.1,609.4 109.5,607.1 113.1,602.2 118.5,600.4 123.0,599.0 129.3,590.0 134.7,583.7 150.9,583.7 167.1,583.1 174.3,581.0 183.3,582.4 190.5,581.9 201.3,580.4 212.1,582.4 220.0,581.7 229.0,581.9 236.2,583.7 243.4,586.4 250.6,587.3 257.8,583.7 265.0,581.0 274.0,580.3 288.3,581.0 299.1,581.9 309.9,580.6 315.3,583.1 320.7,585.5 324.3,584.9 329.7,587.8 338.7,587.8 344.1,584.6 347.7,579.2 353.1,572.9 360.3,572.0 367.5,572.9 374.7,570.7 380.1,571.1 385.5,573.8 390.9,578.3 398.1,582.8 403.5,582.4 408.8,578.3 413.3,573.8 419.6,570.2 425.0,700.0"/></clipPath></defs><g transform="translate(465 0)"><g clip-path="url(#sea1)"><g filter="url(#tb4)"><rect x="10" y="540" width="430" height="150" fill="#25988b"/><polygon points="78.1,618.8 113.6,592.2 275.9,589.3 281.8,601.1 258.2,614.4 216.9,620.3 172.6,623.2 113.6,624.1" fill="#2d718e"/><polygon points="19.1,642.4 84.0,618.8 131.3,624.7 113.6,645.4 54.5,657.2 19.1,663.1" fill="#2a7b8e"/><polygon points="54.5,633.6 172.6,630.6 178.5,648.3 54.5,654.2" fill="#27858d"/><polygon points="249.4,604.0 426.5,574.5 426.5,657.2 255.3,657.2" fill="#24978b"/><polygon points="290.7,592.2 426.5,574.5 426.5,651.3 296.6,651.3" fill="#259d89"/><ellipse cx="394.0" cy="626.2" rx="16.2" ry="11.2" fill="#38598c"/><ellipse cx="346.8" cy="629.1" rx="22.1" ry="8.9" fill="#4ac16d"/><ellipse cx="249.4" cy="629.1" rx="16.2" ry="13.3" fill="#3bbb75"/><polygon points="172.6,618.8 213.9,621.2 249.4,639.5 264.1,663.1 231.6,674.9 202.1,649.8 178.5,633.6" fill="#44bf70"/><ellipse cx="103.2" cy="658.7" rx="13.3" ry="6.5" fill="#4ec36b"/><ellipse cx="160.8" cy="651.3" rx="13.3" ry="7.4" fill="#44bf70"/><polygon points="19.1,657.2 426.5,654.2 426.5,674.9 19.1,674.9" fill="#22a087"/><polygon points="188.8,625.3 209.5,627.1 233.1,641.8 239.9,654.8 225.7,656.6 208.0,646.0 190.3,634.2" fill="#a0da39"/><ellipse cx="228.7" cy="663.1" rx="7.4" ry="5.3" fill="#7ad151"/></g><g filter="url(#tb15)"><polygon points="134.8,589.3 143.7,585.7 154.9,589.3 178.5,587.2 188.0,595.2 184.4,604.9 166.7,615.0 149.0,613.5 134.8,604.6 122.4,607.6 113.6,612.0 107.1,612.0 116.5,604.0 128.3,598.1" fill="#472d7b"/><polygon points="140.1,592.2 154.9,593.7 175.6,592.2 181.5,598.1 172.6,608.5 154.9,609.9 141.6,602.6" fill="#48186a"/><polygon points="190.3,593.7 231.6,595.2 267.1,593.7 270.0,601.1 243.5,608.5 208.0,608.5 187.4,604.0" fill="#3b528b"/><polygon points="28.0,633.6 42.7,624.1 48.0,630.6 43.3,643.0 33.9,651.9 28.0,655.7" fill="#48186a"/><ellipse cx="78.1" cy="613.5" rx="4.7" ry="2.7" fill="#46327e"/><ellipse cx="90.5" cy="614.7" rx="3.5" ry="2.4" fill="#46327e"/><ellipse cx="109.7" cy="611.4" rx="4.1" ry="3.0" fill="#46327e"/><ellipse cx="53.0" cy="622.3" rx="2.7" ry="2.7" fill="#46327e"/><ellipse cx="239.9" cy="602.6" rx="6.5" ry="3.5" fill="#46327e"/><polygon points="125.4,597.5 134.8,584.0 142.5,584.6 138.9,589.9 131.3,598.7" fill="#fde725"/><polygon points="145.4,584.6 164.3,582.8 164.3,588.1 145.4,589.3" fill="#fde725"/><polygon points="172.0,581.0 190.3,582.2 202.1,584.0 213.9,585.7 231.6,585.7 242.9,589.3 247.9,592.8 240.5,593.7 228.7,590.5 202.1,589.3 172.0,586.9" fill="#fde725"/><polygon points="276.5,581.0 293.0,581.0 293.0,586.9 276.5,586.9" fill="#fde725"/><polygon points="296.0,582.2 309.0,581.0 320.8,585.7 332.6,589.3 339.7,592.2 320.2,592.8 308.4,586.9" fill="#fde725"/><polygon points="349.1,574.5 358.0,572.2 356.2,581.0 349.1,582.8" fill="#fde725"/><polygon points="369.8,572.2 382.8,571.0 391.6,576.9 395.2,584.0 382.2,582.8 371.9,578.1" fill="#fde725"/><ellipse cx="65.1" cy="620.6" rx="3.8" ry="2.7" fill="#dde318"/><ellipse cx="348.2" cy="584.9" rx="2.1" ry="3.0" fill="#46327e"/><ellipse cx="394.0" cy="582.8" rx="2.7" ry="1.8" fill="#46327e"/></g></g><polyline points="28.6,640.0 30.4,638.5 33.1,635.8 35.8,631.3 40.3,624.1 43.0,620.5 50.2,617.8 61.0,616.0 68.2,613.3 75.4,609.7 86.2,610.1 96.9,610.6 104.1,609.4 109.5,607.1 113.1,602.2 118.5,600.4 123.0,599.0 129.3,590.0 134.7,583.7 150.9,583.7 167.1,583.1 174.3,581.0 183.3,582.4 190.5,581.9 201.3,580.4 212.1,582.4 220.0,581.7 229.0,581.9 236.2,583.7 243.4,586.4 250.6,587.3 257.8,583.7 265.0,581.0 274.0,580.3 288.3,581.0 299.1,581.9 309.9,580.6 315.3,583.1 320.7,585.5 324.3,584.9 329.7,587.8 338.7,587.8 344.1,584.6 347.7,579.2 353.1,572.9 360.3,572.0 367.5,572.9 374.7,570.7 380.1,571.1 385.5,573.8 390.9,578.3 398.1,582.8 403.5,582.4 408.8,578.3 413.3,573.8 419.6,570.2" fill="none" stroke="#1c2230" stroke-width="1.7" stroke-linejoin="round"/></g>
</g>
<rect x="495.5" y="554.5" width="387.0" height="114.5" fill="none" stroke="#262626" stroke-width="1.1"/>
<text x="689.0" y="546.3" font-size="16.67" text-anchor="middle" fill="#262626">SUZ mode 2. SCF=10.0</text>
<g clip-path="url(#cy2)">
<rect x="1019.2" y="308.5" width="269.5" height="133.6" fill="#f8b8ba"/>
<g filter="url(#tb6)" transform="translate(930 0)"><rect x="60" y="290" width="330" height="175" fill="#fbc7c9"/><polygon points="129.2,300.0 296.2,300.0 315.4,321.4 336.8,338.5 366.8,349.2 294.0,346.0 187.0,344.9 133.5,343.9 120.7,332.1" fill="#f9b4b7"/><polygon points="135.7,330.0 306.9,328.9 311.2,342.8 144.2,342.8" fill="#f8a2a5"/><polygon points="80.0,300.0 103.5,300.0 99.3,325.7 95.0,344.9 80.0,348.2" fill="#ffffff"/><polygon points="80.0,353.5 107.8,352.4 120.7,364.2 116.4,383.5 80.0,385.6" fill="#fdeaea"/><ellipse cx="95.0" cy="371.7" rx="10.7" ry="10.7" fill="#ffffff"/><polygon points="101.4,345.4 212.7,346.0 212.7,356.1 101.4,355.2" fill="#fcdddd"/><polygon points="114.2,356.1 191.3,356.1 187.0,370.2 114.2,370.2" fill="#f9bcbe"/><polygon points="122.8,371.1 294.0,368.9 294.0,384.5 122.8,386.0" fill="#fcd8d9"/><ellipse cx="191.3" cy="373.8" rx="6.4" ry="4.7" fill="#ffffff"/><polygon points="268.4,346.0 366.8,349.2 366.8,364.2 272.6,362.1" fill="#fcd4d5"/><ellipse cx="285.5" cy="354.6" rx="23.5" ry="6.4" fill="#fde8e8"/><polygon points="80.0,388.2 366.8,385.6 366.8,449.8 80.0,449.8" fill="#f8abae"/><polygon points="144.2,400.6 191.3,394.2 251.2,385.6 294.0,370.6 366.8,366.4 366.8,449.8 152.8,449.8 137.8,428.4" fill="#f58589"/><polygon points="294.0,373.8 366.8,369.6 366.8,402.7 304.7,400.6" fill="#f47a7e"/><polygon points="180.6,419.9 217.0,408.1 251.2,400.6 366.8,394.2 366.8,449.8 174.2,449.8" fill="#f05a5e"/><ellipse cx="247.0" cy="437.0" rx="40.7" ry="11.8" fill="#ee474b"/><polygon points="343.3,383.5 366.8,379.2 366.8,449.8 349.7,449.8" fill="#ee474b"/><polygon points="80.0,425.2 112.1,428.0 134.6,439.1 148.5,449.8 80.0,449.8" fill="#fcdadb"/><polygon points="95.0,438.7 133.5,441.3 143.1,449.8 95.0,449.8" fill="#fff5f5"/><polygon points="326.6,299.0 366.4,299.0 366.4,348.8 354.4,342.8 350.5,326.9 334.5,320.9" fill="#fcd9da"/></g>
<g filter="url(#tb2)" transform="translate(930 0)"><polygon points="305.6,319.9 314.6,324.9 315.6,337.9 299.7,337.9 301.7,328.9" fill="#ec4246"/><ellipse cx="312.6" cy="309.0" rx="10.0" ry="5.0" fill="#f9b0b3"/><ellipse cx="103.5" cy="309.0" rx="5.4" ry="1.7" fill="#b9bce2"/><ellipse cx="191.3" cy="373.8" rx="5.6" ry="3.9" fill="#ffffff"/></g>
<polygon points="1204.5,308.5 1208.9,311.4 1213.2,314.0 1219.1,316.7 1224.9,318.9 1230.7,321.3 1234.1,322.1 1236.5,320.3 1239.4,319.7 1242.3,320.8 1245.2,323.7 1249.1,326.6 1253.9,328.3 1258.8,329.5 1262.6,330.0 1265.0,332.0 1267.5,334.4 1269.4,337.3 1270.9,339.7 1273.3,341.2 1275.7,343.1 1279.1,345.0 1283.0,347.0 1286.8,348.4 1289.0,349.4 1289.0,345.0 1286.8,344.7 1283.4,344.1 1280.1,342.1 1277.2,338.7 1275.7,335.8 1276.7,332.0 1277.6,328.1 1277.2,325.2 1275.2,322.8 1272.3,320.8 1267.5,320.3 1263.6,320.5 1259.2,320.8 1260.2,319.4 1261.2,316.5 1261.7,312.6 1262.6,308.5" fill="#ffffff"/>
<polygon points="1233.1,308.5 1235.5,311.6 1240.4,313.1 1246.2,312.4 1250.5,311.4 1252.5,308.5" fill="#f9b3b6"/><polyline points="1204.5,308.5 1208.9,311.4 1213.2,314.0 1219.1,316.7 1224.9,318.9 1230.7,321.3 1234.1,322.1 1236.5,320.3 1239.4,319.7 1242.3,320.8 1245.2,323.7 1249.1,326.6 1253.9,328.3 1258.8,329.5 1262.6,330.0 1265.0,332.0 1267.5,334.4 1269.4,337.3 1270.9,339.7 1273.3,341.2 1275.7,343.1 1279.1,345.0 1283.0,347.0 1286.8,348.4 1289.0,349.4" fill="none" stroke="#1a1a1a" stroke-width="1.5" stroke-linejoin="round" stroke-linecap="round"/><polyline points="1262.6,308.5 1261.7,312.6 1261.2,316.5 1260.2,319.4 1259.2,320.8 1263.6,320.5 1267.5,320.3 1272.3,320.8 1275.2,322.8 1277.2,325.2 1277.6,328.1 1276.7,332.0 1275.7,335.8 1277.2,338.7 1280.1,342.1 1283.4,344.1 1286.8,344.7 1289.0,345.0" fill="none" stroke="#1a1a1a" stroke-width="1.5" stroke-linejoin="round" stroke-linecap="round"/><polyline points="1233.1,308.5 1235.5,311.6 1240.4,313.1 1246.2,312.4 1250.5,311.4 1252.5,308.5" fill="none" stroke="#1a1a1a" stroke-width="1.5" stroke-linejoin="round" stroke-linecap="round"/><path d="M1249.3 375.6 l2.2 -0.8 l2.4 0.6 l0.8 1.8 l-1.0 1.6 l-2.6 0.4 l-1.6 -1.2 z M1255.4 377.2 l2.2 0.2 l0.6 1.0 l-2.4 0.2 z" fill="#1a1a1a"/><path d="M1289.5 370.5 L1287.6 373.5 L1287.0 378 L1287.9 381.5 L1286.6 385.5 L1287.0 391 L1288.2 395.5 L1289.5 398 Z" fill="#fff" stroke="#1a1a1a" stroke-width="1.3"/><g fill="#1a1a1a"><circle cx="1086.7" cy="405.6" r="1.1"/><circle cx="1089.7" cy="408.4" r="1.0"/><circle cx="1068.8" cy="428.5" r="1.0"/><circle cx="1071.5" cy="430.2" r="0.8"/><circle cx="1074.8" cy="429.3" r="0.9"/><circle cx="1046.9" cy="432.1" r="0.8"/><circle cx="1083.7" cy="434.5" r="1.2"/><circle cx="1096.7" cy="436.0" r="0.8"/><circle cx="1023.0" cy="364.8" r="0.9"/><circle cx="1027.0" cy="368.7" r="1.0"/><circle cx="1038.5" cy="388.2" r="0.7"/><circle cx="1044.5" cy="403.5" r="0.7"/></g><path d="M1052.5 432.6 l2.2 1.4 l2.2 0.4" fill="none" stroke="#1a1a1a" stroke-width="1.6" stroke-linecap="round"/><path d="M1030.5 308.8 q1.2 2.6 4.6 1.0" fill="none" stroke="#1a1a1a" stroke-width="1.4" stroke-linecap="round"/>
<g fill="#2a2529"><circle cx="1200.0" cy="318.3" r="2.35"/><circle cx="1158.3" cy="334.9" r="2.35"/><circle cx="1191.7" cy="334.9" r="2.35"/><circle cx="1209.0" cy="335.3" r="1.5"/><circle cx="1242.4" cy="335.3" r="1.5"/><circle cx="1108.3" cy="401.6" r="2.35"/><circle cx="1125.0" cy="401.6" r="2.35"/><circle cx="1141.7" cy="401.6" r="2.35"/><circle cx="1158.3" cy="401.6" r="2.35"/><circle cx="1175.0" cy="401.6" r="2.35"/><circle cx="1191.7" cy="401.6" r="2.35"/><circle cx="1208.3" cy="401.6" r="2.35"/><circle cx="1225.0" cy="401.6" r="2.35"/><circle cx="1241.7" cy="401.6" r="2.35"/><circle cx="1258.3" cy="401.6" r="2.35"/><circle cx="1275.0" cy="401.6" r="2.35"/><circle cx="1066.7" cy="418.3" r="2.35"/><circle cx="1083.3" cy="418.3" r="2.35"/><circle cx="1100.0" cy="418.3" r="2.35"/><circle cx="1116.7" cy="418.3" r="2.35"/><circle cx="1133.3" cy="418.3" r="2.35"/><circle cx="1150.0" cy="418.3" r="2.35"/><circle cx="1166.7" cy="418.3" r="2.35"/><circle cx="1183.3" cy="418.3" r="2.35"/><circle cx="1200.0" cy="418.3" r="2.35"/><circle cx="1216.7" cy="418.3" r="2.35"/><circle cx="1233.3" cy="418.3" r="2.35"/><circle cx="1250.0" cy="418.3" r="2.35"/><circle cx="1266.7" cy="418.3" r="2.35"/><circle cx="1283.3" cy="418.3" r="2.35"/><circle cx="1108.3" cy="434.9" r="2.35"/><circle cx="1125.0" cy="434.9" r="2.35"/><circle cx="1141.7" cy="434.9" r="2.35"/><circle cx="1158.3" cy="434.9" r="2.35"/><circle cx="1175.0" cy="434.9" r="2.35"/><circle cx="1191.7" cy="434.9" r="2.35"/><circle cx="1208.3" cy="434.9" r="2.35"/><circle cx="1225.0" cy="434.9" r="2.35"/><circle cx="1241.7" cy="434.9" r="2.35"/><circle cx="1258.3" cy="434.9" r="2.35"/><circle cx="1275.0" cy="434.9" r="2.35"/></g>
</g>
<rect x="1019.2" y="308.5" width="269.5" height="133.6" fill="none" stroke="#262626" stroke-width="1.1"/>
<text x="1153.2" y="300.3" font-size="16.67" text-anchor="middle" fill="#262626">SUY mode 3. SCF=5.9</text>
<g clip-path="url(#cz2)">
<rect x="960.5" y="554.5" width="387.0" height="114.5" fill="#29978e"/>
<defs><clipPath id="sea2"><polygon points="20.0,700.0 28.6,640.0 30.4,638.5 33.1,635.8 35.8,631.3 40.3,624.1 43.0,620.5 50.2,617.8 61.0,616.0 68.2,613.3 75.4,609.7 86.2,610.1 96.9,610.6 104.1,609.4 109.5,607.1 113.1,602.2 118.5,600.4 123.0,599.0 129.3,590.0 134.7,583.7 150.9,583.7 167.1,583.1 174.3,581.0 183.3,582.4 190.5,581.9 201.3,580.4 212.1,582.4 220.0,581.7 229.0,581.9 236.2,583.7 243.4,586.4 250.6,587.3 257.8,583.7 265.0,581.0 274.0,580.3 288.3,581.0 299.1,581.9 309.9,580.6 315.3,583.1 320.7,585.5 324.3,584.9 329.7,587.8 338.7,587.8 344.1,584.6 347.7,579.2 353.1,572.9 360.3,572.0 367.5,572.9 374.7,570.7 380.1,571.1 385.5,573.8 390.9,578.3 398.1,582.8 403.5,582.4 408.8,578.3 413.3,573.8 419.6,570.2 425.0,700.0"/></clipPath></defs><g transform="translate(930 0)"><g clip-path="url(#sea2)"><g filter="url(#tb4)"><rect x="10" y="540" width="430" height="150" fill="#23938b"/><polygon points="69.3,621.8 290.7,604.0 296.6,674.9 19.1,674.9 19.1,657.2" fill="#2a7b8e"/><polygon points="255.3,604.0 426.5,580.4 426.5,674.9 261.2,674.9" fill="#24898c"/><polygon points="278.9,601.1 426.5,580.4 426.5,674.9 284.8,674.9" fill="#25978a"/><polygon points="308.4,595.2 426.5,580.4 426.5,674.9 314.3,674.9" fill="#27a784"/><polygon points="404.3,571.6 426.5,562.7 426.5,621.8 408.8,618.8" fill="#54c568"/><ellipse cx="337.9" cy="621.8" rx="16.2" ry="10.3" fill="#5ec962"/><ellipse cx="388.1" cy="612.9" rx="11.8" ry="6.5" fill="#2a788e"/><ellipse cx="364.5" cy="642.4" rx="17.7" ry="8.9" fill="#2a8a8c"/><polygon points="208.0,611.4 231.6,620.3 252.3,637.1 244.9,643.9 225.7,632.1 205.1,619.4" fill="#3b528b"/><polygon points="168.2,638.9 196.2,644.8 203.6,658.7 184.4,655.7 169.1,646.8" fill="#3b528b"/><polygon points="36.8,645.4 60.4,641.8 87.0,648.9 60.4,655.7 36.8,654.8" fill="#3e4989"/><polygon points="147.5,597.5 168.2,603.5 165.2,614.4 147.5,609.4" fill="#38588c"/><ellipse cx="278.9" cy="642.4" rx="17.7" ry="11.8" fill="#2f6c8e"/><polygon points="51.6,629.1 72.2,621.2 101.8,618.8 143.1,615.8 149.0,624.7 113.6,630.6 69.3,633.6" fill="#6ece58"/><polygon points="166.7,589.3 340.9,592.2 337.9,598.7 261.2,602.6 202.1,601.1 166.7,595.8" fill="#4ec36b"/><polygon points="343.8,586.3 397.0,586.3 397.0,599.6 343.8,599.6" fill="#86d549"/></g><g filter="url(#tb15)"><polygon points="28.0,636.5 36.8,624.1 42.7,618.2 60.4,613.5 75.2,608.5 98.8,609.4 110.6,604.6 119.5,598.7 128.3,589.9 134.8,584.0 143.7,585.7 137.8,595.2 134.8,604.0 140.7,608.8 134.8,616.4 122.4,615.0 110.6,616.4 98.8,619.4 84.0,619.4 69.3,622.3 57.5,628.2 48.6,634.2 39.8,640.1 33.9,648.9 28.0,657.8" fill="#fde725"/><ellipse cx="41.2" cy="628.5" rx="5.3" ry="3.2" fill="#46327e" transform="rotate(-35 41.2 628.5)"/><ellipse cx="138.9" cy="597.5" rx="5.9" ry="3.2" fill="#443a83" transform="rotate(-25 138.9 597.5)"/><ellipse cx="45.7" cy="649.8" rx="6.5" ry="3.0" fill="#443a83"/><polygon points="163.2,585.1 178.5,581.3 202.1,581.3 231.6,581.3 244.9,586.3 252.9,583.4 261.2,581.3 290.7,580.4 299.5,581.3 299.5,586.3 261.2,587.2 254.7,592.2 249.4,595.5 231.6,594.9 213.9,592.8 196.2,589.9 172.6,588.7" fill="#fde725"/><ellipse cx="311.9" cy="587.8" rx="4.1" ry="2.1" fill="#fde725"/><ellipse cx="334.1" cy="591.1" rx="4.1" ry="2.1" fill="#fde725"/><polygon points="346.2,578.1 352.7,572.5 376.3,570.4 388.7,575.7 394.6,583.4 385.7,586.9 364.5,588.4 346.2,586.9" fill="#fde725"/><ellipse cx="346.8" cy="585.7" rx="2.4" ry="2.7" fill="#3e4989"/><ellipse cx="394.0" cy="582.2" rx="2.7" ry="1.8" fill="#3e4989"/></g></g><polyline points="28.6,640.0 30.4,638.5 33.1,635.8 35.8,631.3 40.3,624.1 43.0,620.5 50.2,617.8 61.0,616.0 68.2,613.3 75.4,609.7 86.2,610.1 96.9,610.6 104.1,609.4 109.5,607.1 113.1,602.2 118.5,600.4 123.0,599.0 129.3,590.0 134.7,583.7 150.9,583.7 167.1,583.1 174.3,581.0 183.3,582.4 190.5,581.9 201.3,580.4 212.1,582.4 220.0,581.7 229.0,581.9 236.2,583.7 243.4,586.4 250.6,587.3 257.8,583.7 265.0,581.0 274.0,580.3 288.3,581.0 299.1,581.9 309.9,580.6 315.3,583.1 320.7,585.5 324.3,584.9 329.7,587.8 338.7,587.8 344.1,584.6 347.7,579.2 353.1,572.9 360.3,572.0 367.5,572.9 374.7,570.7 380.1,571.1 385.5,573.8 390.9,578.3 398.1,582.8 403.5,582.4 408.8,578.3 413.3,573.8 419.6,570.2" fill="none" stroke="#1c2230" stroke-width="1.7" stroke-linejoin="round"/></g>
</g>
<rect x="960.5" y="554.5" width="387.0" height="114.5" fill="none" stroke="#262626" stroke-width="1.1"/>
<text x="1154.0" y="546.3" font-size="16.67" text-anchor="middle" fill="#262626">SUZ mode 3. SCF=5.9</text>
<text x="666.9" y="13.8" font-size="16.67" font-weight="bold" text-anchor="middle" fill="#262626">Z(CHL): MA (36.00ºN, 37.00ºN - 5.30ºW, 2.00ºW), Y(sst): ND (20.00ºS, 20.00ºN - 160.00ºW, 80.00ºW). Alpha: 0.1</text>
</svg>
</body></html>
